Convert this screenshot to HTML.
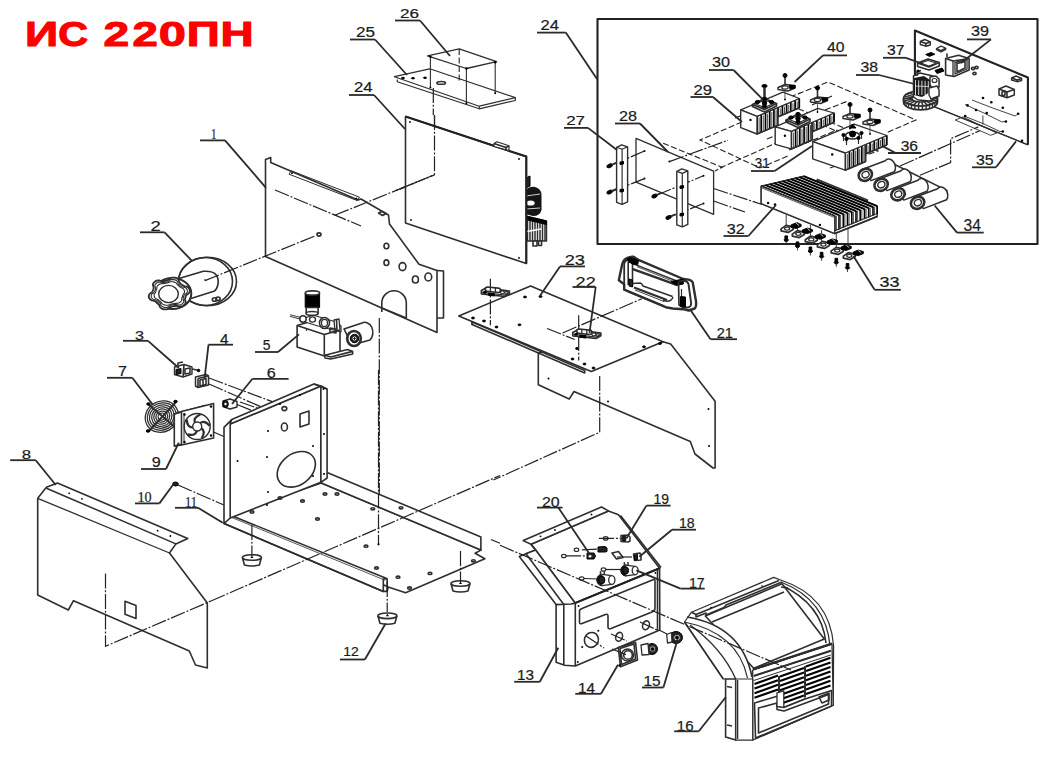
<!DOCTYPE html>
<html><head><meta charset="utf-8"><style>
html,body{margin:0;padding:0;background:#fff;width:1042px;height:774px;overflow:hidden}
svg{display:block}
.s{fill:none;stroke:#2e2e2e;stroke-width:1.6;stroke-linejoin:round}
.t{fill:none;stroke:#222;stroke-width:2.1;stroke-linejoin:round}
.u{fill:none;stroke:#2a2a2a;stroke-width:1.8}
.d{fill:none;stroke:#222;stroke-width:1.2;stroke-dasharray:15 1.8 2 1.8}
.dd{fill:none;stroke:#222;stroke-width:1.1;stroke-dasharray:6 2.5}
.f{fill:#000;stroke:#000;stroke-width:1}
.w{fill:#fff;stroke:#2e2e2e;stroke-width:1.6;stroke-linejoin:round}
.g{fill:#222;stroke:#000;stroke-width:1}
text{font-family:"Liberation Sans",sans-serif;fill:#1a1a1a;stroke:#1a1a1a;stroke-width:0.2}
</style></head><body>
<svg width="1042" height="774" viewBox="0 0 1042 774">
<text transform="translate(24.97,46.1) scale(1.347,1)" font-size="34.3" font-weight="bold" style="fill:#f00;stroke:#f00;stroke-width:1.04;stroke-linejoin:round">И</text>
<text transform="translate(58.25,46.1) scale(1.202,1)" font-size="34.3" font-weight="bold" style="fill:#f00;stroke:#f00;stroke-width:1.16;stroke-linejoin:round">С</text>
<text transform="translate(103.52,46.1) scale(1.345,1)" font-size="34.3" font-weight="bold" style="fill:#f00;stroke:#f00;stroke-width:1.04;stroke-linejoin:round">2</text>
<text transform="translate(132.43,46.1) scale(1.327,1)" font-size="34.3" font-weight="bold" style="fill:#f00;stroke:#f00;stroke-width:1.06;stroke-linejoin:round">2</text>
<text transform="translate(158.74,46.1) scale(1.427,1)" font-size="34.3" font-weight="bold" style="fill:#f00;stroke:#f00;stroke-width:0.98;stroke-linejoin:round">0</text>
<text transform="translate(186.79,46.1) scale(1.337,1)" font-size="34.3" font-weight="bold" style="fill:#f00;stroke:#f00;stroke-width:1.05;stroke-linejoin:round">П</text>
<text transform="translate(220.49,46.1) scale(1.337,1)" font-size="34.3" font-weight="bold" style="fill:#f00;stroke:#f00;stroke-width:1.05;stroke-linejoin:round">Н</text>
<rect x="597.5" y="19" width="440" height="225" class="t"/>
<polygon class="s" points="394.4,76.7 429.7,68.8 515.3,97.6 479.3,106.2" style="stroke-width:1.2"/>
<polyline class="s" points="397.3,79.6 397.3,81.7 479.3,108.8 479.3,106.2" style="stroke-width:1.2"/>
<polyline class="s" points="515.3,97.6 515.3,100.5 479.3,108.8" style="stroke-width:1.2"/>
<ellipse class="s" cx="441.2" cy="82.9" rx="4.3" ry="1.4" />
<ellipse class="f" cx="413.0" cy="78.2" rx="1.6" ry="0.7" />
<ellipse class="f" cx="425.0" cy="77.8" rx="1.6" ry="0.7" />
<ellipse class="f" cx="403.0" cy="78.0" rx="1.6" ry="0.7" />
<polygon class="s" points="427.5,55.8 459.2,48.9 496.6,61.6 466.4,68.5" style="stroke-width:1.3"/>
<polyline class="s" points="430.4,56.6 430.4,87.5" style="stroke-width:1.1"/>
<circle cx="430.4" cy="56.6" r="1.2" fill="#000"/>
<circle cx="430.4" cy="87.5" r="1.0" fill="#000"/>
<polyline class="s" points="466.4,68.5 466.4,103.3" style="stroke-width:1.1"/>
<circle cx="466.4" cy="68.5" r="1.2" fill="#000"/>
<circle cx="466.4" cy="103.3" r="1.0" fill="#000"/>
<polyline class="s" points="495.2,62.3 495.2,93.3" style="stroke-width:1.1"/>
<circle cx="495.2" cy="62.3" r="1.2" fill="#000"/>
<circle cx="495.2" cy="93.3" r="1.0" fill="#000"/>
<polyline class="dd" points="459.2,48.9 459.2,81.0" />
<polyline class="d" points="433.3,88.0 433.3,115.0" />
<polyline class="d" points="434.5,115.0 434.5,174.6 395.0,191.0" />
<g>
<polygon class="g" points="526.0,178.0 530.0,176.0 530.0,186.0 526.0,188.0" />
<path d="M525,192 Q528,186 535,187 Q542,189 541.5,196 L541.5,210 Q540,216 533,216 L525,214 Z" fill="#151515"/>
<ellipse class="w" cx="530.5" cy="203.0" rx="4.2" ry="2.6" style="stroke:none"/>
<polyline class="s" points="526.0,196.0 540.0,194.0" style="stroke:#fff;stroke-width:0.8"/>
<polyline class="s" points="526.0,209.0 540.0,208.0" style="stroke:#fff;stroke-width:0.8"/>
<polygon class="w" points="525.5,216.0 546.5,221.0 546.5,241.0 526.0,241.0" style="stroke-width:1.4"/>
<polyline class="s" points="527.5,216.5 527.5,241.0" style="stroke-width:1.5"/>
<polyline class="s" points="530.0,217.2 530.0,241.0" style="stroke-width:1.5"/>
<polyline class="s" points="532.5,217.9 532.5,241.0" style="stroke-width:1.5"/>
<polyline class="s" points="535.0,218.6 535.0,241.0" style="stroke-width:1.5"/>
<polyline class="s" points="537.5,219.3 537.5,241.0" style="stroke-width:1.5"/>
<polyline class="s" points="540.0,220.0 540.0,241.0" style="stroke-width:1.5"/>
<polyline class="s" points="542.5,220.7 542.5,241.0" style="stroke-width:1.5"/>
<polyline class="s" points="545.0,221.4 545.0,241.0" style="stroke-width:1.5"/>
<polygon class="f" points="525.5,216.0 546.5,221.0 546.5,224.5 525.5,219.5" />
<polyline class="s" points="527.0,231.5 541.0,229.0" style="stroke:#fff;stroke-width:1.6"/>
<polygon class="w" points="533.0,241.0 537.0,241.0 537.0,246.0 533.0,246.0" />
<polygon class="w" points="538.5,241.0 541.5,241.0 541.5,245.5 538.5,245.5" />
</g>
<polygon class="w" points="405.5,116.5 526.3,156.6 526.3,263.6 405.5,223.0" />
<polyline class="t" points="405.5,116.5 526.3,156.6 526.3,263.6" />
<circle cx="410.0" cy="122.0" r="0.9" fill="#000"/>
<circle cx="519.0" cy="159.0" r="0.9" fill="#000"/>
<circle cx="411.0" cy="220.0" r="0.9" fill="#000"/>
<circle cx="519.0" cy="258.0" r="0.9" fill="#000"/>
<polygon class="w" points="494.0,143.5 497.0,141.8 509.0,145.8 509.0,150.5 494.0,146.5" style="stroke-width:1.2"/>
<polyline class="s" points="494.0,143.5 506.0,147.5 509.0,145.8" />
<polyline class="s" points="506.0,147.5 506.0,150.0" />
<polyline class="d" points="434.5,115.0 434.5,174.6 395.0,191.0" />
<polygon class="w" points="265.5,159.5 270.7,157.5 270.7,162.5 358.0,200.0 361.0,199.0 388.5,215.0 389.5,224.0 419.0,264.3 437.0,270.5 437.0,332.5 265.5,256.5" />
<polyline class="s" points="437.0,270.5 443.5,271.0 443.5,318.0 437.0,318.0" />
<polygon class="s" points="289.0,174.2 291.2,170.8 359.5,197.2 357.3,200.6" style="stroke-width:1"/>
<circle cx="292.0" cy="173.2" r="0.9" fill="#000"/>
<circle cx="356.5" cy="198.5" r="0.9" fill="#000"/>
<polygon class="s" points="378.5,213.0 382.0,211.5 386.0,213.5 382.5,215.5" />
<ellipse class="s" cx="386.4" cy="246.0" rx="2.4" ry="2.8" />
<ellipse class="s" cx="386.4" cy="262.7" rx="2.4" ry="2.8" />
<ellipse class="s" cx="402.5" cy="266.6" rx="3.4" ry="4.0" />
<ellipse class="s" cx="415.4" cy="279.5" rx="3.0" ry="3.5" />
<ellipse class="s" cx="428.3" cy="277.0" rx="3.4" ry="4.0" />
<path class="s" d="M381.8,312 L381.8,303 A12,12 0 0 1 406.3,303 L406.3,318" />
<polyline class="s" points="381.8,308.0 406.3,318.0" />
<polyline class="d" points="275.0,190.0 361.0,226.0" />
<polyline class="d" points="334.7,215.3 434.5,174.9" />
<ellipse class="s" cx="319.0" cy="234.5" rx="2.0" ry="1.6" />
<polyline class="d" points="379.3,318.0 379.3,545.0" />
<ellipse class="w" cx="207.5" cy="281.5" rx="29.0" ry="24.2" />
<ellipse class="s" cx="205.5" cy="281.5" rx="27.0" ry="24.0" />
<path class="s" d="M179.8,278.3 L203.3,271.3 Q219,270 218.2,283 Q217,290 213.9,291.3 L190.9,298.5" />
<circle cx="205.0" cy="280.0" r="0.8" fill="#000"/>
<ellipse class="s" cx="214.5" cy="299.5" rx="2.2" ry="1.8" />
<ellipse class="s" cx="218.0" cy="298.8" rx="2.2" ry="1.8" />
<ellipse class="w" cx="172.3" cy="293.5" rx="19.0" ry="15.5" style="stroke-width:2"/>
<polygon class="w" points="188.5,293.5 187.0,294.4 186.4,295.3 185.9,296.1 185.5,296.9 185.3,297.7 185.1,298.6 185.0,299.5 185.2,300.7 185.8,302.1 185.5,303.2 185.0,304.2 184.1,305.1 183.1,305.8 181.9,306.3 180.5,306.5 178.9,306.5 177.1,305.9 175.9,305.9 174.7,306.0 173.6,306.2 172.6,306.4 171.5,306.7 170.4,307.1 169.3,307.8 168.0,308.9 166.6,309.3 165.2,309.4 163.9,309.3 162.6,309.0 161.4,308.4 160.4,307.6 159.7,306.5 159.5,305.0 158.8,304.1 158.1,303.4 157.4,302.8 156.6,302.2 155.8,301.6 154.8,301.1 153.4,300.7 151.5,300.3 150.4,299.6 149.6,298.7 149.0,297.7 148.8,296.7 148.9,295.6 149.2,294.5 150.1,293.5 151.6,292.6 152.2,291.7 152.7,290.9 153.1,290.1 153.3,289.3 153.5,288.4 153.6,287.5 153.4,286.3 152.8,284.9 153.1,283.8 153.6,282.8 154.5,281.9 155.5,281.2 156.7,280.7 158.1,280.5 159.7,280.5 161.5,281.1 162.7,281.1 163.9,281.0 165.0,280.8 166.0,280.6 167.1,280.3 168.2,279.9 169.3,279.2 170.6,278.1 172.0,277.7 173.4,277.6 174.7,277.7 176.0,278.0 177.2,278.6 178.2,279.4 178.9,280.5 179.1,282.0 179.8,282.9 180.5,283.6 181.2,284.2 182.0,284.8 182.8,285.4 183.8,285.9 185.2,286.3 187.1,286.7 188.2,287.4 189.0,288.3 189.6,289.3 189.8,290.3 189.7,291.4 189.4,292.5" style="stroke-width:1.8"/>
<polygon class="s" points="186.2,293.5 184.9,294.3 184.3,295.0 183.9,295.8 183.6,296.5 183.4,297.2 183.2,298.0 183.1,298.8 183.3,299.8 183.8,301.1 183.6,302.1 183.1,302.9 182.4,303.7 181.5,304.3 180.4,304.7 179.1,305.0 177.8,304.9 176.2,304.4 175.1,304.4 174.1,304.5 173.1,304.7 172.2,304.9 171.3,305.1 170.3,305.5 169.3,306.1 168.2,307.1 166.9,307.4 165.7,307.5 164.5,307.4 163.4,307.1 162.3,306.6 161.5,305.9 160.8,304.9 160.6,303.6 160.1,302.9 159.5,302.2 158.8,301.7 158.1,301.1 157.4,300.6 156.5,300.2 155.3,299.8 153.6,299.5 152.6,298.9 151.9,298.1 151.4,297.2 151.2,296.3 151.3,295.3 151.6,294.4 152.4,293.5 153.7,292.7 154.3,292.0 154.7,291.2 155.0,290.5 155.2,289.8 155.4,289.0 155.5,288.2 155.3,287.2 154.8,285.9 155.0,284.9 155.5,284.1 156.2,283.3 157.1,282.7 158.2,282.3 159.5,282.0 160.8,282.1 162.4,282.6 163.5,282.6 164.5,282.5 165.5,282.3 166.4,282.1 167.3,281.9 168.3,281.5 169.3,280.9 170.4,279.9 171.7,279.6 172.9,279.5 174.1,279.6 175.2,279.9 176.3,280.4 177.1,281.1 177.8,282.1 178.0,283.4 178.5,284.1 179.1,284.8 179.8,285.3 180.5,285.9 181.2,286.4 182.1,286.8 183.3,287.2 185.0,287.5 186.0,288.1 186.7,288.9 187.2,289.8 187.4,290.7 187.3,291.7 187.0,292.6" style="stroke-width:1.1"/>
<polygon class="s" points="184.0,293.5 183.3,294.2 183.0,294.9 182.7,295.6 182.5,296.3 182.2,296.9 182.0,297.6 181.8,298.3 181.7,299.1 181.8,300.0 181.4,300.7 180.9,301.4 180.3,302.0 179.5,302.6 178.6,303.0 177.7,303.3 176.7,303.4 175.5,303.3 174.6,303.5 173.7,303.6 172.8,303.8 172.0,304.0 171.1,304.1 170.2,304.4 169.3,304.7 168.3,305.2 167.3,305.3 166.3,305.3 165.3,305.2 164.3,304.9 163.4,304.6 162.6,304.1 161.9,303.4 161.5,302.6 160.9,302.1 160.3,301.5 159.7,301.0 159.0,300.5 158.4,300.0 157.7,299.5 156.9,299.1 155.9,298.7 155.2,298.1 154.7,297.4 154.3,296.6 154.1,295.9 154.1,295.1 154.2,294.3 154.6,293.5 155.3,292.8 155.6,292.1 155.9,291.4 156.1,290.7 156.4,290.1 156.6,289.4 156.8,288.7 156.9,287.9 156.8,287.0 157.2,286.3 157.7,285.6 158.3,285.0 159.1,284.4 160.0,284.0 160.9,283.7 161.9,283.6 163.1,283.7 164.0,283.5 164.9,283.4 165.8,283.2 166.6,283.0 167.5,282.9 168.4,282.6 169.3,282.3 170.3,281.8 171.3,281.7 172.3,281.7 173.3,281.8 174.3,282.1 175.2,282.4 176.0,282.9 176.7,283.6 177.1,284.4 177.7,284.9 178.3,285.5 178.9,286.0 179.6,286.5 180.2,287.0 180.9,287.5 181.7,287.9 182.7,288.3 183.4,288.9 183.9,289.6 184.3,290.4 184.5,291.1 184.5,291.9 184.4,292.7" style="stroke-width:1.1"/>
<ellipse class="w" cx="168.5" cy="294.0" rx="9.8" ry="8.6" style="stroke-width:1.4"/>
<polyline class="d" points="205.0,280.6 316.0,235.5" />
<path class="w" d="M344,329 L362,323 A8,10 0 0 1 370,340 L352,345 Z" />
<ellipse class="w" cx="354.0" cy="338.5" rx="6.8" ry="7.5" style="stroke-width:2.6"/>
<circle class="g" cx="354.5" cy="338.5" r="4.2" />
<circle class="w" cx="354.5" cy="338.5" r="2.0" style="stroke:none"/>
<circle class="f" cx="354.5" cy="338.5" r="0.8" />
<polygon class="w" points="297.1,325.6 312.0,321.0 340.0,330.0 340.0,352.0 324.3,356.0 297.1,347.0" />
<polyline class="s" points="297.1,325.6 324.3,334.6 340.0,330.0" />
<polyline class="s" points="324.3,334.6 324.3,356.0" />
<polygon class="w" points="324.9,355.3 347.5,349.5 352.7,351.4 352.7,354.0 330.7,359.1 324.9,357.9" style="stroke-width:1.5"/>
<polyline class="s" points="324.9,355.3 330.7,357.0 352.7,351.4" />
<polygon class="w" points="305.0,318.0 313.0,315.0 336.0,322.0 341.0,326.0 341.0,332.0 318.0,326.0 305.0,322.0" style="stroke-width:1.2"/>
<ellipse class="w" cx="312.5" cy="319.5" rx="3.0" ry="2.6" style="stroke-width:1.4"/>
<ellipse class="w" cx="324.5" cy="323.0" rx="5.0" ry="5.5" style="stroke-width:1.6"/>
<ellipse class="s" cx="324.5" cy="323.0" rx="3.0" ry="3.6" style="stroke-width:1.2"/>
<polygon class="w" points="334.0,320.0 339.0,319.0 340.0,330.0 335.0,331.0" style="stroke-width:1.3"/>
<polyline class="s" points="336.5,319.5 337.0,331.0" />
<polygon class="s" points="330.0,328.0 336.0,329.0 336.0,333.0 330.0,332.0" />
<polygon class="f" points="305.2,293.0 319.6,293.0 319.6,307.5 305.2,307.5" />
<ellipse class="w" cx="312.4" cy="293.0" rx="7.2" ry="2.1" />
<polygon class="w" points="306.2,307.5 318.1,307.5 318.1,313.4 306.2,313.4" />
<ellipse class="w" cx="312.1" cy="313.4" rx="5.9" ry="1.9" />
<polyline class="s" points="290.0,315.5 303.0,319.0" style="stroke-width:2.5"/>
<polyline class="s" points="290.0,315.5 303.0,319.0" style="stroke:#fff;stroke-width:0.8"/>
<circle class="w" cx="303.0" cy="319.0" r="3.2" style="stroke-width:1.5"/>
<circle cx="306.5" cy="330.0" r="0.8" fill="#000"/>
<polygon class="w" points="174.5,367.0 184.0,364.5 192.0,367.0 192.0,374.0 183.0,377.0 174.5,374.5" style="stroke-width:1.4"/>
<polyline class="s" points="184.0,364.5 183.0,377.0" />
<polygon class="g" points="176.0,369.5 181.0,368.5 181.0,373.5 176.0,374.5" />
<polygon class="s" points="185.0,369.0 190.0,368.0 190.0,373.0 185.0,374.0" />
<polyline class="s" points="178.0,365.5 178.0,363.0 183.0,362.0" />
<polyline class="s" points="192.0,369.0 197.0,370.0" style="stroke-width:1.4"/>
<circle class="f" cx="198.5" cy="370.5" r="1.3" />
<polygon class="w" points="195.5,377.0 206.0,374.5 208.5,376.0 208.5,385.0 198.0,387.5 195.5,386.0" style="stroke-width:1.5"/>
<polyline class="s" points="198.0,378.5 198.0,387.5" />
<polyline class="s" points="198.0,378.5 208.5,376.0" />
<polygon class="s" points="200.0,380.0 206.0,378.5 206.0,384.5 200.0,386.0" />
<polyline class="s" points="203.0,379.5 203.0,385.0" />
<polyline class="d" points="209.0,378.0 300.0,412.0" />
<polyline class="d" points="209.0,384.0 300.0,424.0" />
<polyline class="d" points="240.0,402.0 300.0,423.0" />
<polygon class="w" points="223.0,401.0 230.0,399.0 237.0,401.5 237.0,407.0 230.0,409.0 223.0,406.5" style="stroke-width:1.4"/>
<ellipse class="g" cx="225.5" cy="404.0" rx="2.8" ry="3.5" />
<circle class="w" cx="225.5" cy="404.0" r="1.2" style="stroke:none"/>
<polyline class="d" points="237.0,404.5 290.0,426.0" />
<g transform="rotate(-30 161.8 416.6)">
<ellipse class="s" cx="161.8" cy="416.6" rx="17.0" ry="15.3" style="stroke-width:1.25"/>
<ellipse class="s" cx="161.8" cy="416.6" rx="14.8" ry="13.3" style="stroke-width:1.25"/>
<ellipse class="s" cx="161.8" cy="416.6" rx="12.6" ry="11.3" style="stroke-width:1.25"/>
<ellipse class="s" cx="161.8" cy="416.6" rx="10.4" ry="9.4" style="stroke-width:1.25"/>
<ellipse class="s" cx="161.8" cy="416.6" rx="8.2" ry="7.4" style="stroke-width:1.25"/>
<ellipse class="s" cx="161.8" cy="416.6" rx="6.0" ry="5.4" style="stroke-width:1.25"/>
<ellipse class="s" cx="161.8" cy="416.6" rx="3.8" ry="3.4" style="stroke-width:1.25"/>
</g>
<polyline class="s" points="148.0,404.0 176.0,428.0" style="stroke-width:2"/>
<polyline class="s" points="176.0,402.0 149.0,431.0" style="stroke-width:2"/>
<ellipse class="f" cx="148.5" cy="404.0" rx="1.8" ry="1.2" />
<ellipse class="f" cx="175.5" cy="401.5" rx="1.8" ry="1.2" />
<ellipse class="f" cx="148.0" cy="431.0" rx="1.8" ry="1.2" />
<ellipse class="f" cx="176.0" cy="428.0" rx="1.8" ry="1.2" />
<polygon class="w" points="174.3,414.0 205.0,405.5 205.0,439.0 174.3,446.0" style="stroke-width:1.6"/>
<polygon class="w" points="181.5,411.5 213.6,403.5 213.6,438.0 181.5,445.0" style="stroke-width:1.6"/>
<polyline class="s" points="174.3,414.0 181.5,411.5" />
<polyline class="s" points="174.3,446.0 181.5,445.0" />
<polyline class="s" points="184.0,413.0 184.0,443.5" style="stroke-width:1"/>
<circle class="s" cx="197.2" cy="426.5" r="13.0" style="stroke-width:1.4"/>
<circle class="s" cx="197.2" cy="426.5" r="4.5" style="stroke-width:1.4"/>
<path class="s" d="M201.3,428.3 Q206.0,431.3 201.7,438.2" style="stroke-width:2.2"/>
<path class="s" d="M196.8,431.0 Q195.4,436.3 187.5,434.4" style="stroke-width:2.2"/>
<path class="s" d="M192.8,427.5 Q187.3,427.8 186.7,419.7" style="stroke-width:2.2"/>
<path class="s" d="M194.9,422.6 Q192.9,417.5 200.4,414.4" style="stroke-width:2.2"/>
<path class="s" d="M200.1,423.1 Q204.5,419.6 209.7,425.8" style="stroke-width:2.2"/>
<circle cx="184.5" cy="414.5" r="1.2" fill="#000"/>
<circle cx="211.0" cy="406.5" r="1.2" fill="#000"/>
<circle cx="184.5" cy="442.0" r="1.2" fill="#000"/>
<circle cx="211.0" cy="435.5" r="1.2" fill="#000"/>
<polyline class="d" points="213.5,432.0 320.0,478.0" />
<ellipse class="g" cx="175.5" cy="484.0" rx="2.8" ry="2.0" />
<polyline class="d" points="178.0,485.0 224.0,505.0" />
<polygon class="w" points="230.2,514.2 321.3,482.9 480.9,550.1 475.1,553.2 484.9,558.7 405.6,592.8 388.2,587.0 231.7,515.7" />
<polygon class="w" points="321.3,482.9 327.1,472.6 480.9,536.9 480.9,550.1" />
<polygon class="w" points="224.0,523.5 231.7,515.7 386.7,578.6 383.3,579.0 383.3,591.4 224.0,523.5" />
<polyline class="s" points="231.7,517.5 385.3,580.3" style="stroke-width:0.8"/>
<polyline class="s" points="224.0,523.5 383.3,591.4 387.2,591.4 387.2,579.5 386.7,578.6" />
<polyline class="s" points="387.2,591.4 388.2,587.0" />
<polygon class="w" points="230.2,424.0 320.9,386.0 320.9,482.3 230.2,518.0" />
<polygon class="w" points="224.0,427.4 231.7,419.6 313.9,384.0 320.9,386.0 230.2,424.0 230.2,518.0 224.0,523.5" />
<polyline class="s" points="231.7,419.6 230.2,424.0" />
<polygon class="w" points="320.9,386.0 327.1,389.0 327.1,478.0 320.9,482.3" />
<polyline class="s" points="313.9,384.0 327.1,389.0" />
<ellipse class="s" cx="296.3" cy="469.3" rx="21.0" ry="15.5" transform="rotate(-38 296.3 469.3)"/>
<polygon class="s" points="300.0,414.0 309.0,411.0 309.0,424.0 300.0,427.0" />
<ellipse class="s" cx="284.4" cy="427.0" rx="3.0" ry="4.0" />
<ellipse class="s" cx="284.4" cy="408.6" rx="2.4" ry="2.0" />
<circle cx="268.0" cy="431.0" r="1.0" fill="#000"/>
<circle cx="313.0" cy="446.0" r="1.0" fill="#000"/>
<circle cx="313.0" cy="476.0" r="1.0" fill="#000"/>
<circle cx="267.0" cy="457.0" r="1.0" fill="#000"/>
<circle cx="268.0" cy="492.0" r="1.0" fill="#000"/>
<circle cx="267.0" cy="505.0" r="1.0" fill="#000"/>
<circle cx="323.5" cy="389.0" r="1.0" fill="#000"/>
<circle cx="324.0" cy="434.0" r="1.0" fill="#000"/>
<circle cx="324.0" cy="474.0" r="1.0" fill="#000"/>
<circle cx="280.0" cy="404.0" r="1.0" fill="#000"/>
<circle cx="237.5" cy="461.0" r="1.0" fill="#000"/>
<circle cx="300.0" cy="395.0" r="1.0" fill="#000"/>
<ellipse class="s" cx="337.0" cy="494.0" rx="1.9" ry="1.1" />
<ellipse class="s" cx="325.0" cy="494.0" rx="1.9" ry="1.1" />
<ellipse class="s" cx="372.8" cy="508.8" rx="1.9" ry="1.1" />
<ellipse class="s" cx="401.0" cy="507.8" rx="1.9" ry="1.1" />
<ellipse class="s" cx="366.0" cy="546.2" rx="1.9" ry="1.1" />
<ellipse class="s" cx="376.5" cy="568.0" rx="1.9" ry="1.1" />
<ellipse class="s" cx="398.0" cy="577.2" rx="1.9" ry="1.1" />
<ellipse class="s" cx="430.0" cy="573.4" rx="1.9" ry="1.1" />
<ellipse class="s" cx="473.4" cy="560.8" rx="1.9" ry="1.1" />
<ellipse class="s" cx="409.5" cy="588.0" rx="1.9" ry="1.1" />
<ellipse class="s" cx="302.5" cy="501.0" rx="1.9" ry="1.1" />
<ellipse class="s" cx="317.5" cy="519.0" rx="1.9" ry="1.1" />
<ellipse class="s" cx="252.0" cy="512.0" rx="1.9" ry="1.1" />
<ellipse class="s" cx="280.0" cy="498.0" rx="1.9" ry="1.1" />
<polyline class="d" points="232.0,425.0 300.0,426.0 340.0,440.0" style="display:none"/>
<polyline class="d" points="211.0,601.0 500.0,475.5" />
<polyline class="d" points="378.5,370.0 378.5,544.3" />
<circle cx="378.5" cy="544.3" r="1.1" fill="#000"/>
<polyline class="d" points="387.2,582.0 387.2,612.0" />
<polyline class="d" points="490.9,539.5 500.0,543.3" />
<path class="w" d="M242.4,557.5 L244.4,565.0 Q251.9,567.0 259.4,565.0 L261.4,557.5" />
<ellipse class="w" cx="251.9" cy="557.5" rx="9.5" ry="2.8" />
<path d="M250.4,558.0 L251.9,555.5 L253.4,558.0 Z" fill="#000"/>
<polyline class="d" points="251.9,525.0 251.9,556.0" />
<path class="w" d="M451.0,583.5 L453.0,591.0 Q460.5,593.0 468.0,591.0 L470.0,583.5" />
<ellipse class="w" cx="460.5" cy="583.5" rx="9.5" ry="2.8" />
<path d="M459.0,584.0 L460.5,581.5 L462.0,584.0 Z" fill="#000"/>
<polyline class="d" points="460.5,551.0 460.5,582.0" />
<path class="w" d="M377.9,615.8 L379.9,623.3 Q387.4,625.3 394.9,623.3 L396.9,615.8" />
<ellipse class="w" cx="387.4" cy="615.8" rx="9.5" ry="2.8" />
<path d="M385.9,616.3 L387.4,613.8 L388.9,616.3 Z" fill="#000"/>
<polygon class="w" points="37.7,498.3 46.4,487.3 57.4,483.1 187.7,538.4 175.9,543.9 169.5,553.0 207.3,603.0 207.3,668.0 195.5,665.0 189.3,651.0 73.5,600.7 68.3,610.0 37.7,595.0" />
<polyline class="s" points="46.4,488.2 175.9,543.9" style="stroke-width:1.5"/>
<polyline class="s" points="37.7,498.3 169.5,553.0" style="stroke-width:1.3"/>
<circle cx="69.2" cy="493.3" r="0.9" fill="#000"/>
<circle cx="82.0" cy="498.8" r="0.9" fill="#000"/>
<circle cx="157.6" cy="530.7" r="0.9" fill="#000"/>
<circle cx="170.4" cy="536.0" r="0.9" fill="#000"/>
<polygon class="s" points="125.0,601.3 136.0,605.5 136.0,618.4 125.0,614.2" />
<polyline class="d" points="105.5,573.4 105.5,646.3 211.0,601.0" />
<polygon class="w" points="538.3,352.8 663.0,341.7 670.7,344.0 715.1,401.2 715.1,467.9 713.0,468.0 695.0,454.0 690.3,441.5 574.0,391.5 569.2,399.1 538.3,384.8" />
<circle cx="548.5" cy="378.5" r="1" fill="#000"/>
<circle cx="579.0" cy="364.0" r="1" fill="#000"/>
<circle cx="608.0" cy="401.5" r="1" fill="#000"/>
<circle cx="708.5" cy="409.0" r="1" fill="#000"/>
<circle cx="709.0" cy="446.0" r="1" fill="#000"/>
<polygon class="w" points="458.8,315.9 530.6,285.9 663.0,341.7 591.3,371.5" />
<polygon class="s" points="472.0,321.9 584.7,370.4 584.7,373.0 472.0,324.5" />
<polyline class="s" points="472.0,324.5 472.0,322.0" />
<ellipse class="f" cx="473.0" cy="318.0" rx="1.5" ry="0.9" />
<ellipse class="f" cx="484.0" cy="321.0" rx="1.5" ry="0.9" />
<ellipse class="f" cx="496.5" cy="327.0" rx="1.5" ry="0.9" />
<ellipse class="f" cx="519.5" cy="324.8" rx="1.5" ry="0.9" />
<ellipse class="f" cx="525.0" cy="297.0" rx="1.5" ry="0.9" />
<ellipse class="f" cx="540.5" cy="296.5" rx="1.5" ry="0.9" />
<ellipse class="f" cx="577.0" cy="348.5" rx="1.5" ry="0.9" />
<ellipse class="f" cx="572.5" cy="359.0" rx="1.5" ry="0.9" />
<ellipse class="f" cx="584.5" cy="364.0" rx="1.5" ry="0.9" />
<ellipse class="f" cx="593.5" cy="368.0" rx="1.5" ry="0.9" />
<ellipse class="f" cx="644.0" cy="346.8" rx="1.5" ry="0.9" />
<ellipse class="f" cx="660.0" cy="343.5" rx="1.5" ry="0.9" />
<polyline class="d" points="490.4,278.8 490.4,325.2" />
<polyline class="d" points="578.7,315.3 578.7,360.5" />
<polyline class="d" points="547.0,328.5 574.7,339.5" />
<polyline class="d" points="562.6,333.0 642.0,298.7" />
<polyline class="d" points="599.7,376.0 599.7,432.2 493.4,480.0" />
<polygon class="w" points="481.4,290.5 486.4,287.8 509.4,291.1 509.4,293.8 504.7,296.5 481.4,293.8" style="stroke-width:1.7"/>
<polyline class="s" points="481.9,292.3 504.7,295.1 508.9,292.7" style="stroke-width:1.1"/>
<path class="w" d="M487.4,287.0 L498.4,288.1 A2,2.2 0 0 1 498.4,292.5 L487.4,291.4 A2,2.2 0 0 1 487.4,287.0 Z" style="stroke-width:1.6"/>
<polyline class="s" points="490.4,287.5 490.4,291.7" style="stroke-width:1.3"/>
<polyline class="s" points="495.4,287.9 495.4,292.2" style="stroke-width:1.3"/>
<ellipse class="s" cx="502.4" cy="292.3" rx="2.0" ry="1.5" style="stroke-width:1.3"/>
<ellipse class="s" cx="506.4" cy="292.9" rx="1.6" ry="1.3" style="stroke-width:1.1"/>
<ellipse class="f" cx="484.9" cy="292.3" rx="1.6" ry="1.0" />
<polygon class="f" points="488.4,293.0 494.4,293.7 494.4,296.0 488.4,295.3" />
<polygon class="w" points="572.8,332.5 577.8,329.8 600.8,333.1 600.8,335.8 596.1,338.5 572.8,335.8" style="stroke-width:1.7"/>
<polyline class="s" points="573.3,334.3 596.1,337.1 600.3,334.7" style="stroke-width:1.1"/>
<path class="w" d="M578.8,329.0 L589.8,330.1 A2,2.2 0 0 1 589.8,334.5 L578.8,333.4 A2,2.2 0 0 1 578.8,329.0 Z" style="stroke-width:1.6"/>
<polyline class="s" points="581.8,329.5 581.8,333.7" style="stroke-width:1.3"/>
<polyline class="s" points="586.8,329.9 586.8,334.2" style="stroke-width:1.3"/>
<ellipse class="s" cx="593.8" cy="334.3" rx="2.0" ry="1.5" style="stroke-width:1.3"/>
<ellipse class="s" cx="597.8" cy="334.9" rx="1.6" ry="1.3" style="stroke-width:1.1"/>
<ellipse class="f" cx="576.3" cy="334.3" rx="1.6" ry="1.0" />
<polygon class="f" points="579.8,335.0 585.8,335.7 585.8,338.0 579.8,337.3" />
<path class="w" d="M618.8,280.3 L622.2,264.2 Q623.5,259.5 626.9,258.1 Q630.5,256.3 633.6,256.8 L639,260.2 L683.3,279 L688.7,279.6 Q691.8,280.5 692.7,282.3 L696.1,301.8 Q696.5,306.5 694.7,308.5 L688.7,310.5 L683.3,309.2 L672.6,308.5 L665.8,307.2 L624.2,289.7 L624.2,284.3 Z" style="stroke-width:2.4"/>
<path class="s" d="M624.2,284.3 L624.2,264 Q625,260 628.5,259.5 L633,259.8" style="stroke-width:1.8"/>
<polyline class="s" points="628.2,262.0 628.2,285.0" style="stroke-width:1.6"/>
<polyline class="s" points="632.5,264.0 632.5,286.5" style="stroke-width:1.6"/>
<path class="f" d="M627.5,258.3 Q632,256.8 638.5,260.5 L637.5,265.5 L632.5,264 L628,261.5 Z" />
<polygon class="g" points="629.0,279.0 632.5,280.0 632.5,287.0 629.0,286.0" />
<polyline class="s" points="632.2,268.9 675.2,284.3" style="stroke-width:2.4"/>
<polyline class="s" points="636.0,264.8 678.0,281.5" style="stroke-width:1.4"/>
<polyline class="s" points="637.0,266.7 676.0,282.6" style="stroke-width:0.8"/>
<polygon class="f" points="671.0,281.5 683.3,279.0 683.3,284.0 676.0,285.5" />
<path class="s" d="M632.5,283.5 L640.3,283 Q642,283.5 643,286 L672.6,296.4" style="stroke-width:1.6"/>
<polyline class="s" points="634.0,287.5 667.0,300.0" style="stroke-width:2.2"/>
<polyline class="s" points="635.0,290.0 664.0,301.5" style="stroke-width:0.9"/>
<polyline class="s" points="626.9,291.0 663.2,305.7" style="stroke-width:1.5"/>
<path class="s" d="M663,300.5 Q671,303 673,297" style="stroke-width:1.4"/>
<path class="s" d="M678.5,281.5 L683.5,280.8 Q687.5,281 688.5,284 L691.2,303.5 Q691,307 688,307.5 L683.3,307.5 L679,305" style="stroke-width:1.9"/>
<polyline class="s" points="678.5,281.5 679.0,305.5" style="stroke-width:1.7"/>
<polygon class="f" points="680.5,296.5 685.5,297.0 685.5,307.0 680.5,306.5" />
<polyline class="s" points="681.5,289.0 681.5,296.0" style="stroke-width:1.2"/>
<polygon class="w" points="531.0,544.3 608.4,510.9 618.5,514.7 659.6,568.2 575.1,603.1 535.6,550.1" />
<polygon class="w" points="523.2,540.6 601.5,507.0 608.4,510.9 531.0,544.3" />
<polyline class="s" points="531.0,544.3 535.6,550.1 526.0,553.8" />
<circle cx="540.5" cy="536.3" r="0.9" fill="#000"/>
<circle cx="555.0" cy="530.0" r="0.9" fill="#000"/>
<circle cx="591.5" cy="514.5" r="0.9" fill="#000"/>
<polyline class="s" points="620.5,515.5 661.0,567.5" />
<polygon class="w" points="519.3,556.6 526.0,553.8 535.6,550.1 575.1,603.1 571.0,606.0 556.1,604.6" />
<polyline class="s" points="526.0,553.8 563.8,604.6" />
<polygon class="w" points="556.1,604.6 571.0,604.0 575.3,603.1 659.6,568.2 659.8,630.0 575.3,666.0 564.6,665.2 556.1,662.2" />
<polyline class="s" points="563.8,604.6 563.8,665.0" />
<polyline class="s" points="575.3,603.1 575.3,666.0" />
<polyline class="s" points="657.5,569.0 657.5,630.5" />
<polyline class="t" points="575.1,603.1 659.6,568.2" />
<path class="s" d="M579.5,612 Q579,609.5 582,608.5 L653,579.8 Q655,579 655,581 L655,608 Q655,611 652,612 L611,628.5 Q608,629.5 608,627 L608,616 Q608,613.5 605.5,614.5 L582,623.5 Q579.5,624.5 579.5,622 Z" />
<circle cx="578.5" cy="606.0" r="0.9" fill="#000"/>
<circle cx="577.8" cy="662.0" r="0.9" fill="#000"/>
<circle cx="655.5" cy="573.0" r="0.9" fill="#000"/>
<ellipse class="s" cx="591.4" cy="639.9" rx="7.0" ry="7.5" transform="rotate(20 591.4 639.9)"/>
<polyline class="d" points="586.0,636.0 604.0,648.0" />
<circle cx="598.3" cy="630.7" r="1" fill="#000"/>
<circle cx="582.2" cy="647.1" r="1" fill="#000"/>
<ellipse class="s" cx="619.1" cy="636.8" rx="3.3" ry="4.5" transform="rotate(20 619.1 636.8)"/>
<polyline class="d" points="611.0,634.0 627.0,641.0" />
<ellipse class="s" cx="646.0" cy="625.3" rx="3.3" ry="4.5" transform="rotate(20 646 625.3)"/>
<polyline class="d" points="640.0,622.0 657.0,630.0" />
<polygon class="w" points="618.3,647.5 635.5,642.2 637.5,660.0 620.5,666.8" style="stroke-width:1.6"/>
<polygon class="s" points="620.0,648.5 634.0,644.0 635.5,659.0 621.5,664.5" />
<circle class="w" cx="627.5" cy="655.0" r="6.0" style="stroke-width:1.5"/>
<circle class="s" cx="628.0" cy="655.0" r="4.3" />
<polyline class="d" points="612.0,649.0 627.0,655.0" />
<circle cx="619.5" cy="665.5" r="1.2" fill="#000"/>
<ellipse class="g" cx="652.0" cy="649.0" rx="5.5" ry="5.5" />
<circle class="w" cx="652.5" cy="649.0" r="3.0" style="stroke-width:1.2"/>
<circle class="f" cx="652.5" cy="649.0" r="1.5" />
<polygon class="w" points="641.0,645.0 648.0,643.5 649.0,654.5 642.0,655.0" style="stroke-width:1.3"/>
<ellipse class="g" cx="676.0" cy="637.5" rx="6.5" ry="6.0" />
<circle class="w" cx="677.0" cy="637.5" r="3.2" style="stroke-width:1.2"/>
<circle class="f" cx="677.0" cy="637.5" r="1.5" />
<polygon class="w" points="666.7,634.5 671.5,632.5 672.0,642.0 667.5,643.0" style="stroke-width:1.3"/>
<polyline class="d" points="659.0,630.0 667.0,634.0" />
<ellipse class="s" cx="605.7" cy="538.4" rx="2.3" ry="1.7" style="stroke-width:1.2"/>
<polyline class="d" points="599.0,538.4 620.0,538.4" />
<polygon class="w" points="621.0,535.5 628.0,535.0 630.0,537.0 630.0,541.0 628.0,542.0 621.0,541.5" style="stroke-width:1.5"/>
<ellipse class="g" cx="624.0" cy="538.5" rx="2.0" ry="2.7" />
<ellipse class="s" cx="576.5" cy="549.8" rx="2.3" ry="1.7" style="stroke-width:1.2"/>
<polyline class="d" points="582.0,549.8 598.0,549.0" />
<polygon class="g" points="598.0,547.0 605.0,546.5 607.0,548.0 607.0,551.5 605.0,552.0 598.0,552.0" />
<ellipse class="s" cx="563.8" cy="556.0" rx="2.3" ry="1.7" style="stroke-width:1.2"/>
<polyline class="d" points="566.0,555.8 585.0,555.8" />
<polygon class="g" points="587.0,553.0 594.0,553.0 595.5,556.0 594.0,559.0 587.0,559.0" />
<circle class="w" cx="590.0" cy="556.0" r="1.5" style="stroke:none"/>
<polygon class="s" points="612.0,553.0 618.5,551.5 623.0,557.5 616.5,559.0" />
<polyline class="d" points="617.0,557.0 632.0,557.0" />
<polygon class="w" points="633.5,554.0 640.0,553.0 641.0,556.0 641.0,560.0 634.5,560.5" style="stroke-width:1.6"/>
<polygon class="g" points="634.5,555.0 637.5,554.5 637.5,559.5 634.5,560.0" />
<ellipse class="s" cx="603.5" cy="569.5" rx="2.3" ry="1.7" style="stroke-width:1.2"/>
<polyline class="d" points="606.0,569.5 622.0,569.5" />
<ellipse class="g" cx="625.6" cy="570.5" rx="4.8" ry="5.4" />
<polygon class="w" points="625.6,565.1 635.2,566.3 635.2,574.7 625.6,575.9" style="stroke-width:1.3"/>
<ellipse class="w" cx="635.2" cy="570.5" rx="3.0" ry="4.2" style="stroke-width:1.3"/>
<ellipse class="g" cx="625.6" cy="570.5" rx="3.0" ry="3.6" />
<polyline class="s" points="624.4,562.1 624.4,565.7" style="stroke-width:1.5"/>
<polyline class="s" points="628.0,562.1 628.0,565.7" style="stroke-width:1.5"/>
<ellipse class="s" cx="581.7" cy="578.5" rx="2.3" ry="1.7" style="stroke-width:1.2"/>
<polyline class="d" points="584.0,578.5 598.0,579.0" />
<ellipse class="g" cx="601.8" cy="580.0" rx="5.0" ry="5.6" />
<polygon class="w" points="601.8,574.4 611.8,575.6 611.8,584.4 601.8,585.6" style="stroke-width:1.3"/>
<ellipse class="w" cx="611.8" cy="580.0" rx="3.1" ry="4.4" style="stroke-width:1.3"/>
<ellipse class="g" cx="601.8" cy="580.0" rx="3.1" ry="3.8" />
<polyline class="s" points="600.5,571.2 600.5,575.0" style="stroke-width:1.5"/>
<polyline class="s" points="604.2,571.2 604.2,575.0" style="stroke-width:1.5"/>
<path class="w" d="M684.5,622 L691.5,612.2 L773.7,577.4 L780.6,580 Q830,596 833.6,646 L833.3,705.2 L752.7,740 L736.4,740 L725.6,737 L725.6,679 L723.3,679 Z" style="stroke-width:1.2"/>
<polyline class="s" points="691.5,612.2 696.0,614.5 779.0,580.5" />
<polyline class="s" points="696.0,614.5 696.0,617.0 706.0,613.0 706.0,615.0 724.0,607.5 726.0,605.0 782.0,582.0" />
<circle cx="711.0" cy="607.5" r="0.8" fill="#000"/>
<circle cx="762.0" cy="586.0" r="0.8" fill="#000"/>
<path class="s" d="M782,582.5 Q826,600 830,646" style="stroke-width:1.3"/>
<path class="s" d="M781,585 Q822,604 826,643" />
<polygon class="w" points="705.3,616.0 782.0,583.8 824.3,639.1 753.7,668.3" />
<polyline class="s" points="712.0,622.0 784.0,592.0" />
<polyline class="s" points="781.0,587.0 788.0,588.0" />
<path class="w" d="M687,617 Q742,626 752,677" style="stroke-width:1.6"/>
<path class="s" d="M684.5,622 Q738,633 747.5,678" style="stroke-width:1.2"/>
<path class="s" d="M684.5,622 L723.3,679" />
<path class="s" d="M690,625 Q722,648 735.7,679" style="stroke-width:1.4"/>
<polygon class="w" points="752.7,670.0 832.0,644.0 833.3,705.2 752.7,740.0" style="stroke-width:1.3"/>
<polyline class="t" points="753.0,669.5 832.0,643.5" />
<polyline class="s" points="754.0,676.0 831.0,651.0" />
<polygon class="w" points="725.6,679.0 735.7,679.0 735.7,740.0 725.6,737.0" />
<polygon class="w" points="735.7,679.0 752.7,679.0 752.7,740.0 735.7,740.0" style="stroke-width:1.2"/>
<polyline class="s" points="737.5,680.0 737.5,739.0" />
<polyline class="s" points="727.0,686.5 732.0,687.5" style="stroke-width:1.6"/>
<polyline class="s" points="727.0,725.0 732.0,726.0" style="stroke-width:1.6"/>
<polyline class="s" points="753.8,669.1 830.8,644.3" style="stroke-width:2"/>
<polyline class="s" points="753.8,675.8 830.8,650.5" style="stroke-width:1.8"/>
<polyline class="s" points="753.8,680.5 830.8,655.0" style="stroke-width:1"/>
<line x1="754.5" y1="684.0" x2="778" y2="675.6" stroke="#000" stroke-width="2.1"/>
<line x1="754.5" y1="688.6" x2="778" y2="680.2" stroke="#000" stroke-width="2.1"/>
<line x1="754.5" y1="693.2" x2="778" y2="684.8" stroke="#000" stroke-width="2.1"/>
<line x1="754.5" y1="697.8" x2="778" y2="689.4" stroke="#000" stroke-width="2.1"/>
<line x1="780" y1="676.5" x2="804" y2="668.0" stroke="#000" stroke-width="2.1"/>
<line x1="780" y1="681.1" x2="804" y2="672.6" stroke="#000" stroke-width="2.1"/>
<line x1="780" y1="685.7" x2="804" y2="677.2" stroke="#000" stroke-width="2.1"/>
<line x1="780" y1="690.3" x2="804" y2="681.8" stroke="#000" stroke-width="2.1"/>
<line x1="780" y1="694.9" x2="804" y2="686.4" stroke="#000" stroke-width="2.1"/>
<line x1="780" y1="699.5" x2="804" y2="691.0" stroke="#000" stroke-width="2.1"/>
<line x1="780" y1="704.1" x2="804" y2="695.6" stroke="#000" stroke-width="2.1"/>
<line x1="806" y1="666.5" x2="830.5" y2="657.8" stroke="#000" stroke-width="2.1"/>
<line x1="806" y1="671.1" x2="830.5" y2="662.4" stroke="#000" stroke-width="2.1"/>
<line x1="806" y1="675.7" x2="830.5" y2="667.0" stroke="#000" stroke-width="2.1"/>
<line x1="806" y1="680.3" x2="830.5" y2="671.6" stroke="#000" stroke-width="2.1"/>
<line x1="806" y1="684.9" x2="830.5" y2="676.2" stroke="#000" stroke-width="2.1"/>
<line x1="806" y1="689.5" x2="830.5" y2="680.8" stroke="#000" stroke-width="2.1"/>
<line x1="806" y1="694.1" x2="830.5" y2="685.4" stroke="#000" stroke-width="2.1"/>
<polyline class="s" points="779.0,676.0 779.0,707.0" style="stroke-width:2"/>
<polyline class="s" points="805.0,666.0 805.0,697.5" style="stroke-width:2"/>
<polyline class="s" points="783.8,707.4 805.0,699.0" style="stroke-width:1.6"/>
<polygon class="w" points="754.5,703.0 778.0,696.0 777.0,706.3 783.8,707.4 805.0,699.0 831.5,690.5 831.5,706.0 755.5,738.0" style="stroke-width:1.6"/>
<polygon class="s" points="758.5,708.0 777.0,703.0 777.0,709.5 784.0,711.0 828.5,694.5 828.5,704.0 758.5,733.0" />
<polygon class="w" points="777.0,692.9 783.8,690.8 783.8,707.4 777.0,706.3" style="stroke-width:1.3"/>
<polygon class="s" points="819.0,697.0 829.0,693.0 829.0,700.0 822.0,703.0" />
<polyline class="d" points="500.0,545.3 791.0,670.0" />
<polyline class="dd" points="663.2,143.3 722.1,167.3 715.0,171.0" />
<polygon class="w" points="636.0,138.3 713.6,171.2 713.6,214.3 636.0,182.1" style="stroke-width:1.3"/>
<circle cx="644.5" cy="151.0" r="1" fill="#000"/>
<circle cx="644.5" cy="178.6" r="1" fill="#000"/>
<circle cx="669.4" cy="161.6" r="1" fill="#000"/>
<circle cx="703.5" cy="175.8" r="1" fill="#000"/>
<circle cx="703.5" cy="203.5" r="1" fill="#000"/>
<polyline class="d" points="669.4,161.6 728.0,140.2" />
<polyline class="d" points="612.0,165.0 644.5,151.0" />
<polyline class="d" points="612.0,191.5 644.5,178.6" />
<polyline class="d" points="657.0,195.0 703.5,175.8" />
<polyline class="d" points="671.0,216.5 703.5,203.5" />
<polyline class="d" points="713.6,188.5 762.0,204.5" />
<polyline class="d" points="713.6,201.0 745.0,212.0" />
<polygon class="w" points="616.6,147.3 621.6,144.8 627.6,146.8 627.6,201.8 622.1,204.3 616.6,202.3" style="stroke-width:1.4"/>
<polyline class="s" points="616.6,147.3 622.1,149.3 627.6,146.8" style="stroke-width:1.2"/>
<polyline class="s" points="622.1,149.3 622.1,204.3" style="stroke-width:1.2"/>
<polygon class="w" points="676.8,171.4 681.8,168.9 687.8,170.9 687.8,224.4 682.3,226.9 676.8,224.9" style="stroke-width:1.4"/>
<polyline class="s" points="676.8,171.4 682.3,173.4 687.8,170.9" style="stroke-width:1.2"/>
<polyline class="s" points="682.3,173.4 682.3,226.9" style="stroke-width:1.2"/>
<ellipse class="f" cx="609.6" cy="165.8" rx="2.8" ry="1.6" transform="rotate(-25 609.6 165.8)"/>
<polyline class="s" points="611.6,164.8 616.6,162.6" style="stroke-width:1.8"/>
<ellipse class="f" cx="609.6" cy="192.1" rx="2.8" ry="1.6" transform="rotate(-25 609.6 192.1)"/>
<polyline class="s" points="611.6,191.1 616.6,188.9" style="stroke-width:1.8"/>
<ellipse class="f" cx="654.6" cy="196.0" rx="2.8" ry="1.6" transform="rotate(-25 654.6 196.0)"/>
<polyline class="s" points="656.6,195.0 661.6,192.8" style="stroke-width:1.8"/>
<ellipse class="f" cx="668.6" cy="217.4" rx="2.8" ry="1.6" transform="rotate(-25 668.6 217.4)"/>
<polyline class="s" points="670.6,216.4 675.6,214.2" style="stroke-width:1.8"/>
<polygon class="f" points="620.0,162.0 623.5,161.5 623.5,164.0 620.0,164.5" />
<polygon class="f" points="620.0,189.5 623.5,189.0 623.5,191.5 620.0,192.0" />
<polygon class="f" points="680.0,186.0 683.5,185.5 683.5,188.0 680.0,188.5" />
<polygon class="f" points="680.0,213.5 683.5,213.0 683.5,215.5 680.0,216.0" />
<polyline class="dd" points="742.0,122.0 700.0,140.0 760.0,168.0 790.0,155.0" />
<polyline class="dd" points="735.0,118.0 780.0,101.0 868.0,138.0 860.0,142.0" />
<polyline class="dd" points="767.0,139.0 812.0,120.0 860.0,142.0" />
<polyline class="dd" points="789.0,150.0 837.0,130.0 878.0,151.0 830.0,168.0" />
<polyline class="dd" points="790.0,97.0 828.0,82.0 916.0,120.0 886.0,133.0" />
<polyline class="dd" points="812.0,105.0 832.0,96.0" />
<polyline class="dd" points="825.0,110.0 848.0,101.0" />
<polyline class="dd" points="720.0,168.0 812.0,127.0" />
<polygon class="w" points="757.0,116.3 777.7,107.6 777.7,125.3 757.0,134.0" style="stroke-width:1.3"/>
<polygon class="w" points="777.7,107.6 799.3,98.5 799.3,107.8 777.7,116.9" style="stroke-width:1.3"/>
<line x1="757.0" y1="116.3" x2="757.0" y2="134.0" stroke="#000" stroke-width="1.7"/>
<line x1="759.1" y1="117.4" x2="759.1" y2="132.1" stroke="#000" stroke-width="0.7"/>
<line x1="761.2" y1="114.5" x2="761.2" y2="132.2" stroke="#000" stroke-width="1.7"/>
<line x1="763.3" y1="115.6" x2="763.3" y2="130.3" stroke="#000" stroke-width="0.7"/>
<line x1="765.5" y1="112.7" x2="765.5" y2="130.4" stroke="#000" stroke-width="1.7"/>
<line x1="767.6" y1="113.9" x2="767.6" y2="128.6" stroke="#000" stroke-width="0.7"/>
<line x1="769.7" y1="111.0" x2="769.7" y2="128.7" stroke="#000" stroke-width="1.7"/>
<line x1="771.8" y1="112.1" x2="771.8" y2="126.8" stroke="#000" stroke-width="0.7"/>
<line x1="773.9" y1="109.2" x2="773.9" y2="126.9" stroke="#000" stroke-width="1.7"/>
<line x1="776.0" y1="110.3" x2="776.0" y2="125.0" stroke="#000" stroke-width="0.7"/>
<line x1="778.1" y1="107.4" x2="778.1" y2="116.7" stroke="#000" stroke-width="1.7"/>
<line x1="780.3" y1="108.5" x2="780.3" y2="114.8" stroke="#000" stroke-width="0.7"/>
<line x1="782.4" y1="105.6" x2="782.4" y2="114.9" stroke="#000" stroke-width="1.7"/>
<line x1="784.5" y1="106.7" x2="784.5" y2="113.0" stroke="#000" stroke-width="0.7"/>
<line x1="786.6" y1="103.8" x2="786.6" y2="113.1" stroke="#000" stroke-width="1.7"/>
<line x1="788.7" y1="105.0" x2="788.7" y2="111.3" stroke="#000" stroke-width="0.7"/>
<line x1="790.8" y1="102.1" x2="790.8" y2="111.4" stroke="#000" stroke-width="1.7"/>
<line x1="793.0" y1="103.2" x2="793.0" y2="109.5" stroke="#000" stroke-width="0.7"/>
<line x1="795.1" y1="100.3" x2="795.1" y2="109.6" stroke="#000" stroke-width="1.7"/>
<line x1="797.2" y1="101.4" x2="797.2" y2="107.7" stroke="#000" stroke-width="0.7"/>
<line x1="799.3" y1="98.5" x2="799.3" y2="107.8" stroke="#000" stroke-width="1.7"/>
<polyline class="s" points="757.0,134.0 777.7,125.3" style="stroke-width:1.6"/>
<polyline class="s" points="777.7,116.9 799.3,107.8" style="stroke-width:1.6"/>
<polyline class="s" points="777.7,107.6 777.7,125.3" style="stroke-width:1.8"/>
<polygon class="w" points="740.7,109.9 783.0,92.1 799.3,98.5 757.0,116.3" style="stroke-width:1.3"/>
<polygon class="w" points="740.7,109.9 757.0,116.3 757.0,134.0 740.7,127.6" style="stroke-width:1.4"/>
<circle cx="750.5" cy="119.9" r="1.2" fill="#000"/>
<polygon class="w" points="752.5,104.5 764.5,98.5 776.5,103.5 764.5,109.5" style="stroke-width:1.8"/>
<polygon class="s" points="755.5,104.0 764.5,100.0 773.5,103.5 764.5,107.5" style="stroke-width:1.2"/>
<polyline class="s" points="752.5,104.5 752.5,106.5 764.5,112.0 776.5,106.0 776.5,103.5" style="stroke-width:1.6"/>
<ellipse class="f" cx="757.5" cy="102.0" rx="2.2" ry="1.6" />
<ellipse class="f" cx="771.5" cy="102.0" rx="2.2" ry="1.6" />
<ellipse class="f" cx="764.5" cy="98.5" rx="2.2" ry="1.6" />
<ellipse class="f" cx="764.5" cy="106.5" rx="2.2" ry="1.6" />
<ellipse class="f" cx="764.5" cy="103.0" rx="2.2" ry="2.6" />
<polyline class="s" points="764.5,97.0 764.5,88.0" style="stroke-width:2.5"/>
<ellipse class="f" cx="764.5" cy="86.0" rx="2.6" ry="1.5" />
<polygon class="w" points="778.0,87.5 785.0,84.5 795.0,85.5 795.0,88.0 788.0,91.0 778.0,89.5" style="stroke-width:1.5"/>
<ellipse class="s" cx="785.0" cy="87.5" rx="3.2" ry="1.6" style="stroke-width:1.2"/>
<polygon class="f" points="789.0,85.5 795.0,85.5 795.0,88.0 790.0,89.0" />
<polyline class="s" points="785.0,76.5 785.0,84.5" style="stroke-width:1.6"/>
<ellipse class="f" cx="785.0" cy="75.5" rx="2.0" ry="2.0" />
<polyline class="s" points="785.0,90.5 785.0,99.5" style="stroke-width:0.8"/>
<circle cx="785.0" cy="99.5" r="0.9" fill="#000"/>
<polygon class="w" points="791.3,131.4 812.2,122.4 812.2,139.9 791.3,148.9" style="stroke-width:1.3"/>
<polygon class="w" points="812.2,122.4 834.0,113.0 834.0,122.3 812.2,131.7" style="stroke-width:1.3"/>
<line x1="791.3" y1="131.4" x2="791.3" y2="148.9" stroke="#000" stroke-width="1.7"/>
<line x1="793.4" y1="132.5" x2="793.4" y2="147.0" stroke="#000" stroke-width="0.7"/>
<line x1="795.6" y1="129.6" x2="795.6" y2="147.1" stroke="#000" stroke-width="1.7"/>
<line x1="797.7" y1="130.6" x2="797.7" y2="145.1" stroke="#000" stroke-width="0.7"/>
<line x1="799.8" y1="127.7" x2="799.8" y2="145.2" stroke="#000" stroke-width="1.7"/>
<line x1="802.0" y1="128.8" x2="802.0" y2="143.3" stroke="#000" stroke-width="0.7"/>
<line x1="804.1" y1="125.9" x2="804.1" y2="143.4" stroke="#000" stroke-width="1.7"/>
<line x1="806.2" y1="127.0" x2="806.2" y2="141.5" stroke="#000" stroke-width="0.7"/>
<line x1="808.4" y1="124.0" x2="808.4" y2="141.5" stroke="#000" stroke-width="1.7"/>
<line x1="810.5" y1="125.1" x2="810.5" y2="139.6" stroke="#000" stroke-width="0.7"/>
<line x1="812.7" y1="122.2" x2="812.7" y2="131.5" stroke="#000" stroke-width="1.7"/>
<line x1="814.8" y1="123.3" x2="814.8" y2="129.6" stroke="#000" stroke-width="0.7"/>
<line x1="816.9" y1="120.4" x2="816.9" y2="129.7" stroke="#000" stroke-width="1.7"/>
<line x1="819.1" y1="121.4" x2="819.1" y2="127.7" stroke="#000" stroke-width="0.7"/>
<line x1="821.2" y1="118.5" x2="821.2" y2="127.8" stroke="#000" stroke-width="1.7"/>
<line x1="823.3" y1="119.6" x2="823.3" y2="125.9" stroke="#000" stroke-width="0.7"/>
<line x1="825.5" y1="116.7" x2="825.5" y2="126.0" stroke="#000" stroke-width="1.7"/>
<line x1="827.6" y1="117.8" x2="827.6" y2="124.1" stroke="#000" stroke-width="0.7"/>
<line x1="829.7" y1="114.8" x2="829.7" y2="124.1" stroke="#000" stroke-width="1.7"/>
<line x1="831.9" y1="115.9" x2="831.9" y2="122.2" stroke="#000" stroke-width="0.7"/>
<line x1="834.0" y1="113.0" x2="834.0" y2="122.3" stroke="#000" stroke-width="1.7"/>
<polyline class="s" points="791.3,148.9 812.2,139.9" style="stroke-width:1.6"/>
<polyline class="s" points="812.2,131.7 834.0,122.3" style="stroke-width:1.6"/>
<polyline class="s" points="812.2,122.4 812.2,139.9" style="stroke-width:1.8"/>
<polygon class="w" points="775.2,126.8 817.9,108.4 834.0,113.0 791.3,131.4" style="stroke-width:1.3"/>
<polygon class="w" points="775.2,126.8 791.3,131.4 791.3,148.9 775.2,144.3" style="stroke-width:1.4"/>
<circle cx="784.9" cy="135.7" r="1.2" fill="#000"/>
<polygon class="w" points="786.0,120.0 798.0,114.0 810.0,119.0 798.0,125.0" style="stroke-width:1.8"/>
<polygon class="s" points="789.0,119.5 798.0,115.5 807.0,119.0 798.0,123.0" style="stroke-width:1.2"/>
<polyline class="s" points="786.0,120.0 786.0,122.0 798.0,127.5 810.0,121.5 810.0,119.0" style="stroke-width:1.6"/>
<ellipse class="f" cx="791.0" cy="117.5" rx="2.2" ry="1.6" />
<ellipse class="f" cx="805.0" cy="117.5" rx="2.2" ry="1.6" />
<ellipse class="f" cx="798.0" cy="114.0" rx="2.2" ry="1.6" />
<ellipse class="f" cx="798.0" cy="122.0" rx="2.2" ry="1.6" />
<ellipse class="f" cx="798.0" cy="118.5" rx="2.2" ry="2.6" />
<polygon class="w" points="810.5,100.0 817.5,97.0 827.5,98.0 827.5,100.5 820.5,103.5 810.5,102.0" style="stroke-width:1.5"/>
<ellipse class="s" cx="817.5" cy="100.0" rx="3.2" ry="1.6" style="stroke-width:1.2"/>
<polygon class="f" points="821.5,98.0 827.5,98.0 827.5,100.5 822.5,101.5" />
<polyline class="s" points="817.5,89.0 817.5,97.0" style="stroke-width:1.6"/>
<ellipse class="f" cx="817.5" cy="88.0" rx="2.0" ry="2.0" />
<polyline class="s" points="817.5,103.0 817.5,112.0" style="stroke-width:0.8"/>
<circle cx="817.5" cy="112.0" r="0.9" fill="#000"/>
<polygon class="w" points="845.2,153.0 865.5,144.4 865.5,161.6 845.2,170.2" style="stroke-width:1.3"/>
<polygon class="w" points="865.5,144.4 886.7,135.5 886.7,145.0 865.5,153.9" style="stroke-width:1.3"/>
<line x1="845.2" y1="153.0" x2="845.2" y2="170.2" stroke="#000" stroke-width="1.7"/>
<line x1="847.3" y1="154.1" x2="847.3" y2="168.3" stroke="#000" stroke-width="0.7"/>
<line x1="849.4" y1="151.2" x2="849.4" y2="168.4" stroke="#000" stroke-width="1.7"/>
<line x1="851.4" y1="152.4" x2="851.4" y2="166.6" stroke="#000" stroke-width="0.7"/>
<line x1="853.5" y1="149.5" x2="853.5" y2="166.7" stroke="#000" stroke-width="1.7"/>
<line x1="855.6" y1="150.6" x2="855.6" y2="164.8" stroke="#000" stroke-width="0.7"/>
<line x1="857.7" y1="147.8" x2="857.7" y2="164.9" stroke="#000" stroke-width="1.7"/>
<line x1="859.7" y1="148.9" x2="859.7" y2="163.1" stroke="#000" stroke-width="0.7"/>
<line x1="861.8" y1="146.0" x2="861.8" y2="163.2" stroke="#000" stroke-width="1.7"/>
<line x1="863.9" y1="147.1" x2="863.9" y2="161.3" stroke="#000" stroke-width="0.7"/>
<line x1="866.0" y1="144.2" x2="866.0" y2="153.8" stroke="#000" stroke-width="1.7"/>
<line x1="868.0" y1="145.4" x2="868.0" y2="151.9" stroke="#000" stroke-width="0.7"/>
<line x1="870.1" y1="142.5" x2="870.1" y2="152.0" stroke="#000" stroke-width="1.7"/>
<line x1="872.2" y1="143.6" x2="872.2" y2="150.1" stroke="#000" stroke-width="0.7"/>
<line x1="874.2" y1="140.8" x2="874.2" y2="150.2" stroke="#000" stroke-width="1.7"/>
<line x1="876.3" y1="141.9" x2="876.3" y2="148.4" stroke="#000" stroke-width="0.7"/>
<line x1="878.4" y1="139.0" x2="878.4" y2="148.5" stroke="#000" stroke-width="1.7"/>
<line x1="880.5" y1="140.1" x2="880.5" y2="146.6" stroke="#000" stroke-width="0.7"/>
<line x1="882.6" y1="137.2" x2="882.6" y2="146.8" stroke="#000" stroke-width="1.7"/>
<line x1="884.6" y1="138.4" x2="884.6" y2="144.9" stroke="#000" stroke-width="0.7"/>
<line x1="886.7" y1="135.5" x2="886.7" y2="145.0" stroke="#000" stroke-width="1.7"/>
<polyline class="s" points="845.2,170.2 865.5,161.6" style="stroke-width:1.6"/>
<polyline class="s" points="865.5,153.9 886.7,145.0" style="stroke-width:1.6"/>
<polyline class="s" points="865.5,144.4 865.5,161.6" style="stroke-width:1.8"/>
<polygon class="w" points="812.7,141.6 854.2,124.1 886.7,135.5 845.2,153.0" style="stroke-width:1.3"/>
<polygon class="w" points="812.7,141.6 845.2,153.0 845.2,170.2 812.7,158.8" style="stroke-width:1.4"/>
<circle cx="832.2" cy="154.5" r="1.2" fill="#000"/>
<ellipse class="w" cx="852.5" cy="135.5" rx="7.0" ry="3.5" style="stroke-width:1.6"/>
<ellipse class="f" cx="852.5" cy="134.0" rx="3.0" ry="3.0" />
<polygon class="f" points="849.0,128.0 852.5,124.0 856.0,128.0" />
<polyline class="s" points="843.5,136.0 843.5,141.0" style="stroke-width:1.2"/>
<ellipse class="f" cx="843.5" cy="135.0" rx="1.6" ry="1.6" />
<polyline class="s" points="861.5,134.0 861.5,139.0" style="stroke-width:1.2"/>
<ellipse class="f" cx="861.5" cy="133.0" rx="1.6" ry="1.6" />
<polyline class="s" points="846.5,140.0 846.5,145.0" style="stroke-width:1.2"/>
<ellipse class="f" cx="846.5" cy="139.0" rx="1.6" ry="1.6" />
<polyline class="s" points="858.5,139.0 858.5,144.0" style="stroke-width:1.2"/>
<ellipse class="f" cx="858.5" cy="138.0" rx="1.6" ry="1.6" />
<polygon class="w" points="843.0,116.5 850.0,113.5 860.0,114.5 860.0,117.0 853.0,120.0 843.0,118.5" style="stroke-width:1.5"/>
<ellipse class="s" cx="850.0" cy="116.5" rx="3.2" ry="1.6" style="stroke-width:1.2"/>
<polygon class="f" points="854.0,114.5 860.0,114.5 860.0,117.0 855.0,118.0" />
<polyline class="s" points="850.0,105.5 850.0,113.5" style="stroke-width:1.6"/>
<ellipse class="f" cx="850.0" cy="104.5" rx="2.0" ry="2.0" />
<polyline class="s" points="850.0,119.5 850.0,128.5" style="stroke-width:0.8"/>
<circle cx="850.0" cy="128.5" r="0.9" fill="#000"/>
<polygon class="w" points="863.0,122.0 870.0,119.0 880.0,120.0 880.0,122.5 873.0,125.5 863.0,124.0" style="stroke-width:1.5"/>
<ellipse class="s" cx="870.0" cy="122.0" rx="3.2" ry="1.6" style="stroke-width:1.2"/>
<polygon class="f" points="874.0,120.0 880.0,120.0 880.0,122.5 875.0,123.5" />
<polyline class="s" points="870.0,111.0 870.0,119.0" style="stroke-width:1.6"/>
<ellipse class="f" cx="870.0" cy="110.0" rx="2.0" ry="2.0" />
<polyline class="s" points="870.0,125.0 870.0,134.0" style="stroke-width:0.8"/>
<circle cx="870.0" cy="134.0" r="0.9" fill="#000"/>
<polygon class="w" points="914.9,30.5 1027.9,77.5 1027.9,144.8 914.9,98.8" style="stroke-width:1"/>
<polyline class="t" points="914.9,98.8 914.9,30.5 1027.9,77.5 1027.9,144.8" />
<polyline class="s" points="914.9,98.8 1027.9,144.8" style="stroke-width:1.4"/>
<polygon class="w" points="920.3,41.5 924.8,39.5 930.3,41.9 930.3,45.0 925.8,46.2 920.3,44.5" style="stroke-width:1.4"/>
<polyline class="s" points="920.3,41.5 925.8,43.5 930.3,41.9" />
<polyline class="s" points="925.8,43.5 925.8,46.2" />
<polygon class="w" points="936.6,48.5 941.0,46.2 945.6,48.0 941.0,50.5" style="stroke-width:1.3"/>
<polyline class="s" points="936.6,48.5 936.6,49.5 941.0,51.7 945.6,49.2 945.6,48.0" />
<polygon class="f" points="925.7,54.5 931.0,52.5 934.8,54.2 929.5,56.4" />
<polyline class="s" points="947.0,53.5 947.0,57.0" style="stroke-width:1.6"/>
<polygon class="w" points="917.6,63.0 928.0,58.9 939.3,62.5 939.3,66.0 929.0,70.0 917.6,66.5" style="stroke-width:1.6"/>
<polygon class="s" points="920.5,63.0 928.0,60.5 936.5,63.0 929.0,66.0" style="stroke-width:1.2"/>
<polyline class="s" points="917.6,63.0 929.0,67.0 939.3,62.5" />
<polygon class="w" points="945.6,58.5 958.5,55.3 969.1,58.5 969.1,70.0 954.0,76.5 945.6,75.0" style="stroke-width:1.6"/>
<polyline class="s" points="945.6,58.5 953.0,61.0 969.1,58.5" />
<polyline class="s" points="953.0,61.0 953.0,76.5" style="stroke-width:1.3"/>
<polygon class="s" points="955.0,62.5 967.0,59.5 967.0,69.0 955.0,74.0" style="stroke-width:1.3"/>
<polygon class="s" points="957.0,63.5 965.0,61.5 965.0,68.0 957.0,72.0" />
<ellipse class="s" cx="973.0" cy="68.5" rx="1.6" ry="1.2" />
<ellipse class="s" cx="976.5" cy="67.5" rx="1.6" ry="1.2" />
<ellipse class="s" cx="974.5" cy="73.5" rx="1.6" ry="1.2" />
<polygon class="w" points="1011.6,78.0 1016.1,76.0 1021.6,78.4 1021.6,80.5 1017.1,81.7 1011.6,80.0" style="stroke-width:1.4"/>
<polyline class="s" points="1011.6,78.0 1017.1,80.0 1021.6,78.4" />
<polyline class="s" points="1017.1,80.0 1017.1,81.7" />
<polygon class="w" points="999.0,89.0 1006.0,86.0 1014.3,89.5 1014.3,95.0 1007.0,97.8 999.0,95.0" style="stroke-width:1.5"/>
<polyline class="s" points="999.0,89.0 1007.0,92.0 1014.3,89.5" />
<polyline class="s" points="1007.0,92.0 1007.0,97.8" />
<polygon class="s" points="1002.0,92.0 1005.0,91.0 1005.0,95.0 1002.0,96.0" />
<polyline class="s" points="965.0,104.5 986.0,114.0 1001.5,121.8 1006.0,121.5" style="stroke-width:0.9"/>
<polyline class="s" points="972.0,100.0 990.0,107.0 1015.0,116.0 1018.2,113.8" style="stroke-width:0.9"/>
<polyline class="s" points="964.0,116.0 984.0,124.0 1000.0,131.5 1002.8,131.5" style="stroke-width:0.9"/>
<circle cx="967.5" cy="105.4" r="1.3" fill="#000"/>
<circle cx="991.3" cy="102.3" r="1.3" fill="#000"/>
<circle cx="1002.8" cy="107.7" r="1.3" fill="#000"/>
<circle cx="1018.2" cy="113.8" r="1.3" fill="#000"/>
<circle cx="986.7" cy="113.0" r="1.3" fill="#000"/>
<circle cx="1005.9" cy="121.5" r="1.3" fill="#000"/>
<circle cx="1002.8" cy="131.5" r="1.3" fill="#000"/>
<circle cx="1022.0" cy="140.7" r="1.3" fill="#000"/>
<circle cx="965.2" cy="116.1" r="1.3" fill="#000"/>
<circle cx="976.0" cy="110.0" r="1.3" fill="#000"/>
<circle cx="983.0" cy="98.0" r="1.3" fill="#000"/>
<polygon class="s" points="955.2,120.0 962.9,116.9 996.7,133.0 990.6,135.3" style="stroke-width:0.9"/>
<polyline class="s" points="982.9,115.4 982.9,124.6" style="stroke-width:0.9"/>
<polyline class="d" points="900.0,166.0 979.8,130.7" />
<polyline class="d" points="919.9,175.2 950.6,162.6 950.6,138.7 978.3,126.9" />
<path class="w" d="M903.5,98.5 L903.5,102.3 A17,7.6 0 0 0 937.5,102.3 L937.5,98.5 Z" style="stroke-width:1.6"/>
<polyline class="s" points="937.4,99.4 937.4,103.2" style="stroke-width:1.4"/>
<polyline class="s" points="936.5,101.0 936.5,104.8" style="stroke-width:1.4"/>
<polyline class="s" points="934.9,102.5 934.9,106.3" style="stroke-width:1.4"/>
<polyline class="s" points="932.5,103.9 932.5,107.7" style="stroke-width:1.4"/>
<polyline class="s" points="929.5,104.9 929.5,108.7" style="stroke-width:1.4"/>
<polyline class="s" points="926.1,105.7 926.1,109.5" style="stroke-width:1.4"/>
<polyline class="s" points="922.4,106.1 922.4,109.9" style="stroke-width:1.4"/>
<polyline class="s" points="918.6,106.1 918.6,109.9" style="stroke-width:1.4"/>
<polyline class="s" points="914.9,105.7 914.9,109.5" style="stroke-width:1.4"/>
<polyline class="s" points="911.5,104.9 911.5,108.7" style="stroke-width:1.4"/>
<polyline class="s" points="908.5,103.9 908.5,107.7" style="stroke-width:1.4"/>
<polyline class="s" points="906.1,102.5 906.1,106.3" style="stroke-width:1.4"/>
<polyline class="s" points="904.5,101.0 904.5,104.8" style="stroke-width:1.4"/>
<polyline class="s" points="903.6,99.4 903.6,103.2" style="stroke-width:1.4"/>
<ellipse class="w" cx="920.5" cy="98.5" rx="17.0" ry="7.6" style="stroke-width:1.7"/>
<ellipse class="w" cx="920.5" cy="98.5" rx="8.5" ry="3.6" style="stroke-width:1.5"/>
<polyline class="s" points="929.0,98.5 937.5,98.5" style="stroke-width:1.5"/>
<polyline class="s" points="928.7,99.5 936.8,100.6" style="stroke-width:1.5"/>
<polyline class="s" points="927.7,100.4 934.8,102.6" style="stroke-width:1.5"/>
<polyline class="s" points="926.1,101.2 931.6,104.2" style="stroke-width:1.5"/>
<polyline class="s" points="924.0,101.8 927.6,105.4" style="stroke-width:1.5"/>
<polyline class="s" points="921.7,102.1 922.9,106.0" style="stroke-width:1.5"/>
<polyline class="s" points="919.3,102.1 918.1,106.0" style="stroke-width:1.5"/>
<polyline class="s" points="917.0,101.8 913.4,105.4" style="stroke-width:1.5"/>
<polyline class="s" points="914.9,101.2 909.4,104.2" style="stroke-width:1.5"/>
<polyline class="s" points="913.3,100.4 906.2,102.6" style="stroke-width:1.5"/>
<polyline class="s" points="912.3,99.5 904.2,100.6" style="stroke-width:1.5"/>
<polyline class="s" points="912.0,98.5 903.5,98.5" style="stroke-width:1.5"/>
<polyline class="s" points="912.3,97.5 904.2,96.4" style="stroke-width:1.5"/>
<polyline class="s" points="913.3,96.6 906.2,94.4" style="stroke-width:1.5"/>
<polyline class="s" points="914.9,95.8 909.4,92.8" style="stroke-width:1.5"/>
<polyline class="s" points="917.0,95.2 913.4,91.6" style="stroke-width:1.5"/>
<polyline class="s" points="919.3,94.9 918.1,91.0" style="stroke-width:1.5"/>
<polyline class="s" points="921.7,94.9 922.9,91.0" style="stroke-width:1.5"/>
<polyline class="s" points="924.0,95.2 927.6,91.6" style="stroke-width:1.5"/>
<polyline class="s" points="926.1,95.8 931.6,92.8" style="stroke-width:1.5"/>
<polyline class="s" points="927.7,96.6 934.8,94.4" style="stroke-width:1.5"/>
<polyline class="s" points="928.7,97.5 936.8,96.4" style="stroke-width:1.5"/>
<polygon class="w" points="913.5,97.0 913.5,76.0 920.0,73.0 933.0,76.0 938.5,80.0 938.5,96.0 930.0,101.0 918.0,100.0" style="stroke-width:1.5"/>
<path d="M914,78 L924,76 L930,80 L930,92 L922,97 L914,95 Z" fill="#1a1a1a"/>
<polyline class="s" points="915.5,80.0 915.5,95.0" style="stroke:#fff;stroke-width:0.8"/>
<polyline class="s" points="918.7,80.3 918.7,95.0" style="stroke:#fff;stroke-width:0.8"/>
<polyline class="s" points="921.9,80.6 921.9,95.0" style="stroke:#fff;stroke-width:0.8"/>
<polyline class="s" points="925.1,80.9 925.1,95.0" style="stroke:#fff;stroke-width:0.8"/>
<polyline class="s" points="928.3,81.2 928.3,95.0" style="stroke:#fff;stroke-width:0.8"/>
<polyline class="s" points="915.0,86.0 929.0,86.5" style="stroke:#fff;stroke-width:0.7"/>
<polygon class="w" points="930.0,77.0 936.0,76.0 939.0,79.0 939.0,87.0 933.0,89.0 930.0,85.0" style="stroke-width:1.5"/>
<ellipse class="s" cx="934.5" cy="80.5" rx="2.4" ry="2.0" style="stroke-width:1.2"/>
<polygon class="w" points="929.0,88.0 937.0,86.0 939.0,90.0 939.0,96.0 931.0,99.0 929.0,95.0" style="stroke-width:1.4"/>
<polyline class="s" points="917.0,76.0 917.0,72.0 921.0,70.5" style="stroke-width:1.6"/>
<circle cx="918.0" cy="71.0" r="1.6" fill="#000"/>
<polygon class="f" points="935.0,70.5 942.0,68.0 944.0,71.0 937.0,73.5" />
<polyline class="s" points="892.2,163.2 947.1,190.6 942.0,192.0" />
<path class="w" d="M862.1,169.5 L885.3,160.7 A4.5,6.2 -20 0 1 894.3,171.8 L871.1,180.6 Z" style="stroke-width:1.5"/>
<ellipse class="w" cx="865.3" cy="174.8" rx="6.9" ry="5.8" style="stroke-width:2.6" transform="rotate(-25 865.3 174.8)"/>
<ellipse class="w" cx="865.6" cy="174.8" rx="3.7" ry="3.1" style="stroke-width:1.5" transform="rotate(-25 865.3 174.8)"/>
<path class="w" d="M877.9,179.5 L901.1,170.7 A4.5,6.2 -20 0 1 910.1,181.8 L886.9,190.6 Z" style="stroke-width:1.5"/>
<ellipse class="w" cx="881.1" cy="184.8" rx="6.9" ry="5.8" style="stroke-width:2.6" transform="rotate(-25 881.1 184.8)"/>
<ellipse class="w" cx="881.4" cy="184.8" rx="3.7" ry="3.1" style="stroke-width:1.5" transform="rotate(-25 881.1 184.8)"/>
<path class="w" d="M894.8,189.0 L918.0,180.2 A4.5,6.2 -20 0 1 927.0,191.3 L903.8,200.1 Z" style="stroke-width:1.5"/>
<ellipse class="w" cx="898.0" cy="194.3" rx="6.9" ry="5.8" style="stroke-width:2.6" transform="rotate(-25 898.0 194.3)"/>
<ellipse class="w" cx="898.3" cy="194.3" rx="3.7" ry="3.1" style="stroke-width:1.5" transform="rotate(-25 898.0 194.3)"/>
<path class="w" d="M914.4,197.5 L937.6,188.7 A4.5,6.2 -20 0 1 946.6,199.8 L923.4,208.6 Z" style="stroke-width:1.5"/>
<ellipse class="w" cx="917.6" cy="202.8" rx="6.9" ry="5.8" style="stroke-width:2.6" transform="rotate(-25 917.6 202.8)"/>
<ellipse class="w" cx="917.9" cy="202.8" rx="3.7" ry="3.1" style="stroke-width:1.5" transform="rotate(-25 917.6 202.8)"/>
<polygon class="s" points="817.4,179.4 867.3,200.0 867.3,202.0 817.4,181.4" />
<polygon class="w" points="761.2,186.2 803.6,176.2 877.2,206.1 877.2,216.5 834.8,233.6 761.2,203.7" style="stroke-width:1.4"/>
<line x1="761.2" y1="186.2" x2="834.8" y2="216.1" stroke="#000" stroke-width="1.8"/>
<line x1="762.4" y1="186.4" x2="836.0" y2="216.3" stroke="#000" stroke-width="0.7"/>
<line x1="834.8" y1="216.1" x2="834.8" y2="231.1" stroke="#000" stroke-width="1.6"/>
<line x1="836.4" y1="215.8" x2="836.4" y2="230.6" stroke="#000" stroke-width="0.7"/>
<line x1="765.4" y1="185.2" x2="839.0" y2="215.1" stroke="#000" stroke-width="1.8"/>
<line x1="766.6" y1="185.4" x2="840.2" y2="215.3" stroke="#000" stroke-width="0.7"/>
<line x1="839.0" y1="215.1" x2="839.0" y2="229.4" stroke="#000" stroke-width="1.6"/>
<line x1="840.6" y1="214.8" x2="840.6" y2="228.9" stroke="#000" stroke-width="0.7"/>
<line x1="769.7" y1="184.2" x2="843.3" y2="214.1" stroke="#000" stroke-width="1.8"/>
<line x1="770.9" y1="184.4" x2="844.5" y2="214.3" stroke="#000" stroke-width="0.7"/>
<line x1="843.3" y1="214.1" x2="843.3" y2="227.7" stroke="#000" stroke-width="1.6"/>
<line x1="844.9" y1="213.8" x2="844.9" y2="227.2" stroke="#000" stroke-width="0.7"/>
<line x1="773.9" y1="183.2" x2="847.5" y2="213.1" stroke="#000" stroke-width="1.8"/>
<line x1="775.1" y1="183.4" x2="848.7" y2="213.3" stroke="#000" stroke-width="0.7"/>
<line x1="847.5" y1="213.1" x2="847.5" y2="226.0" stroke="#000" stroke-width="1.6"/>
<line x1="849.1" y1="212.8" x2="849.1" y2="225.5" stroke="#000" stroke-width="0.7"/>
<line x1="778.2" y1="182.2" x2="851.8" y2="212.1" stroke="#000" stroke-width="1.8"/>
<line x1="779.4" y1="182.4" x2="853.0" y2="212.3" stroke="#000" stroke-width="0.7"/>
<line x1="851.8" y1="212.1" x2="851.8" y2="224.3" stroke="#000" stroke-width="1.6"/>
<line x1="853.4" y1="211.8" x2="853.4" y2="223.8" stroke="#000" stroke-width="0.7"/>
<line x1="782.4" y1="181.2" x2="856.0" y2="211.1" stroke="#000" stroke-width="1.8"/>
<line x1="783.6" y1="181.4" x2="857.2" y2="211.3" stroke="#000" stroke-width="0.7"/>
<line x1="856.0" y1="211.1" x2="856.0" y2="222.6" stroke="#000" stroke-width="1.6"/>
<line x1="857.6" y1="210.8" x2="857.6" y2="222.1" stroke="#000" stroke-width="0.7"/>
<line x1="786.6" y1="180.2" x2="860.2" y2="210.1" stroke="#000" stroke-width="1.8"/>
<line x1="787.8" y1="180.4" x2="861.4" y2="210.3" stroke="#000" stroke-width="0.7"/>
<line x1="860.2" y1="210.1" x2="860.2" y2="220.8" stroke="#000" stroke-width="1.6"/>
<line x1="861.8" y1="209.8" x2="861.8" y2="220.3" stroke="#000" stroke-width="0.7"/>
<line x1="790.9" y1="179.2" x2="864.5" y2="209.1" stroke="#000" stroke-width="1.8"/>
<line x1="792.1" y1="179.4" x2="865.7" y2="209.3" stroke="#000" stroke-width="0.7"/>
<line x1="864.5" y1="209.1" x2="864.5" y2="219.1" stroke="#000" stroke-width="1.6"/>
<line x1="866.1" y1="208.8" x2="866.1" y2="218.6" stroke="#000" stroke-width="0.7"/>
<line x1="795.1" y1="178.2" x2="868.7" y2="208.1" stroke="#000" stroke-width="1.8"/>
<line x1="796.3" y1="178.4" x2="869.9" y2="208.3" stroke="#000" stroke-width="0.7"/>
<line x1="868.7" y1="208.1" x2="868.7" y2="217.4" stroke="#000" stroke-width="1.6"/>
<line x1="870.3" y1="207.8" x2="870.3" y2="216.9" stroke="#000" stroke-width="0.7"/>
<line x1="799.4" y1="177.2" x2="873.0" y2="207.1" stroke="#000" stroke-width="1.8"/>
<line x1="800.6" y1="177.4" x2="874.2" y2="207.3" stroke="#000" stroke-width="0.7"/>
<line x1="873.0" y1="207.1" x2="873.0" y2="215.7" stroke="#000" stroke-width="1.6"/>
<line x1="874.6" y1="206.8" x2="874.6" y2="215.2" stroke="#000" stroke-width="0.7"/>
<line x1="803.6" y1="176.2" x2="877.2" y2="206.1" stroke="#000" stroke-width="1.8"/>
<line x1="877.2" y1="206.1" x2="877.2" y2="214.0" stroke="#000" stroke-width="1.6"/>
<polyline class="s" points="834.8,233.6 877.2,216.5" style="stroke-width:1.6"/>
<polyline class="s" points="834.8,230.6 877.2,213.5" style="stroke-width:1.2"/>
<polygon class="w" points="761.2,186.2 834.8,216.1 834.8,233.6 761.2,203.7" style="stroke-width:1.4"/>
<polyline class="s" points="761.2,187.7 834.8,217.6" style="stroke-width:0.8"/>
<circle cx="768.1" cy="203.0" r="1.2" fill="#000"/>
<circle cx="775.0" cy="204.5" r="1.2" fill="#000"/>
<circle cx="819.9" cy="224.9" r="1.2" fill="#000"/>
<polyline class="s" points="786.2,215.0 786.2,228.8" style="stroke-width:0.9"/>
<polyline class="s" points="797.6,222.0 797.6,233.0" style="stroke-width:0.9"/>
<polyline class="s" points="810.4,225.0 810.4,239.0" style="stroke-width:0.9"/>
<polyline class="s" points="821.6,230.0 821.6,244.0" style="stroke-width:0.9"/>
<polyline class="s" points="836.3,232.3 836.3,249.5" style="stroke-width:0.9"/>
<polyline class="s" points="848.0,228.8 848.0,244.4" style="stroke-width:0.9"/>
<polygon class="w" points="781.1,228.9 786.1,225.4 793.1,226.9 793.1,229.4 788.1,232.4 781.1,230.9" style="stroke-width:1.7"/>
<ellipse class="s" cx="787.1" cy="228.6" rx="2.6" ry="1.5" style="stroke-width:1.3"/>
<polygon class="f" points="791.1,224.9 796.1,222.9 801.1,224.4 801.1,226.4 796.1,228.4 791.1,227.4" />
<polyline class="s" points="796.1,223.2 799.1,225.6" style="stroke:#fff;stroke-width:0.8"/>
<polygon class="w" points="792.3,234.1 797.3,230.6 804.3,232.1 804.3,234.6 799.3,237.6 792.3,236.1" style="stroke-width:1.7"/>
<ellipse class="s" cx="798.3" cy="233.8" rx="2.6" ry="1.5" style="stroke-width:1.3"/>
<polygon class="f" points="802.3,230.1 807.3,228.1 812.3,229.6 812.3,231.6 807.3,233.6 802.3,232.6" />
<polyline class="s" points="807.3,228.4 810.3,230.8" style="stroke:#fff;stroke-width:0.8"/>
<polygon class="w" points="805.3,239.7 810.3,236.2 817.3,237.7 817.3,240.2 812.3,243.2 805.3,241.7" style="stroke-width:1.7"/>
<ellipse class="s" cx="811.3" cy="239.4" rx="2.6" ry="1.5" style="stroke-width:1.3"/>
<polygon class="f" points="815.3,235.7 820.3,233.7 825.3,235.2 825.3,237.2 820.3,239.2 815.3,238.2" />
<polyline class="s" points="820.3,234.0 823.3,236.4" style="stroke:#fff;stroke-width:0.8"/>
<polygon class="w" points="817.4,244.9 822.4,241.4 829.4,242.9 829.4,245.4 824.4,248.4 817.4,246.9" style="stroke-width:1.7"/>
<ellipse class="s" cx="823.4" cy="244.6" rx="2.6" ry="1.5" style="stroke-width:1.3"/>
<polygon class="f" points="827.4,240.9 832.4,238.9 837.4,240.4 837.4,242.4 832.4,244.4 827.4,243.4" />
<polyline class="s" points="832.4,239.2 835.4,241.6" style="stroke:#fff;stroke-width:0.8"/>
<polygon class="w" points="831.2,250.9 836.2,247.4 843.2,248.9 843.2,251.4 838.2,254.4 831.2,252.9" style="stroke-width:1.7"/>
<ellipse class="s" cx="837.2" cy="250.6" rx="2.6" ry="1.5" style="stroke-width:1.3"/>
<polygon class="f" points="841.2,246.9 846.2,244.9 851.2,246.4 851.2,248.4 846.2,250.4 841.2,249.4" />
<polyline class="s" points="846.2,245.2 849.2,247.6" style="stroke:#fff;stroke-width:0.8"/>
<polygon class="w" points="843.3,256.1 848.3,252.6 855.3,254.1 855.3,256.6 850.3,259.6 843.3,258.1" style="stroke-width:1.7"/>
<ellipse class="s" cx="849.3" cy="255.8" rx="2.6" ry="1.5" style="stroke-width:1.3"/>
<polygon class="f" points="853.3,252.1 858.3,250.1 863.3,251.6 863.3,253.6 858.3,255.6 853.3,254.6" />
<polyline class="s" points="858.3,250.4 861.3,252.8" style="stroke:#fff;stroke-width:0.8"/>
<polygon class="f" points="784.9,235.9 787.5,235.9 787.5,238.9 788.4,239.9 787.4,241.4 785.0,241.4 784.0,239.9 784.9,238.9" />
<polyline class="s" points="786.2,241.4 786.2,244.4" style="stroke-width:0.9"/>
<polygon class="f" points="796.2,241.9 798.8,241.9 798.8,244.9 799.7,245.9 798.7,247.4 796.3,247.4 795.3,245.9 796.2,244.9" />
<polyline class="s" points="797.5,247.4 797.5,250.4" style="stroke-width:0.9"/>
<polygon class="f" points="809.1,247.0 811.7,247.0 811.7,250.0 812.6,251.0 811.6,252.5 809.2,252.5 808.2,251.0 809.1,250.0" />
<polyline class="s" points="810.4,252.5 810.4,255.5" style="stroke-width:0.9"/>
<polygon class="f" points="820.3,252.3 822.9,252.3 822.9,255.3 823.8,256.3 822.8,257.8 820.4,257.8 819.4,256.3 820.3,255.3" />
<polyline class="s" points="821.6,257.8 821.6,260.8" style="stroke-width:0.9"/>
<polygon class="f" points="835.0,258.3 837.6,258.3 837.6,261.3 838.5,262.3 837.5,263.8 835.1,263.8 834.1,262.3 835.0,261.3" />
<polyline class="s" points="836.3,263.8 836.3,266.8" style="stroke-width:0.9"/>
<polygon class="f" points="846.2,263.5 848.8,263.5 848.8,266.5 849.7,267.5 848.7,269.0 846.3,269.0 845.3,267.5 846.2,266.5" />
<polyline class="s" points="847.5,269.0 847.5,272.0" style="stroke-width:0.9"/>
<text x="211.0" y="139.0" font-size="13.6" textLength="5.5" lengthAdjust="spacingAndGlyphs" style="font-family:&quot;Liberation Serif&quot;,serif">1</text>
<line class="u" x1="200.0" y1="140.4" x2="225.0" y2="140.4"/>
<polyline class="u" points="225.0,140.4 266.0,187.8" />
<text x="150.4" y="231.0" font-size="14.0" textLength="10.3" lengthAdjust="spacingAndGlyphs">2</text>
<line class="u" x1="140.0" y1="232.3" x2="164.6" y2="232.3"/>
<polyline class="u" points="164.6,232.3 191.7,260.7" />
<text x="135.0" y="340.0" font-size="13.3" textLength="9.0" lengthAdjust="spacingAndGlyphs">3</text>
<line class="u" x1="123.0" y1="340.8" x2="148.0" y2="340.8"/>
<polyline class="u" points="148.0,340.8 178.8,368.0" />
<text x="220.0" y="344.0" font-size="14.0" textLength="8.5" lengthAdjust="spacingAndGlyphs">4</text>
<line class="u" x1="208.5" y1="344.7" x2="233.0" y2="344.7"/>
<polyline class="u" points="208.5,344.7 204.6,378.3" />
<text x="262.8" y="350.0" font-size="14.7" textLength="7.7" lengthAdjust="spacingAndGlyphs">5</text>
<line class="u" x1="255.0" y1="352.0" x2="278.0" y2="352.0"/>
<polyline class="u" points="278.0,352.0 299.0,334.4" />
<text x="266.7" y="378.0" font-size="14.0" textLength="9.0" lengthAdjust="spacingAndGlyphs">6</text>
<line class="u" x1="252.5" y1="378.8" x2="288.6" y2="378.8"/>
<polyline class="u" points="252.5,378.8 232.0,404.0" />
<text x="118.0" y="375.7" font-size="14.9" textLength="9.0" lengthAdjust="spacingAndGlyphs">7</text>
<line class="u" x1="107.0" y1="377.8" x2="132.3" y2="377.8"/>
<polyline class="u" points="132.3,377.8 153.0,405.0" />
<text x="21.7" y="458.6" font-size="13.0" textLength="9.3" lengthAdjust="spacingAndGlyphs">8</text>
<line class="u" x1="10.2" y1="460.2" x2="35.7" y2="460.2"/>
<polyline class="u" points="35.7,460.2 55.8,485.0" />
<text x="151.7" y="467.0" font-size="14.0" textLength="9.0" lengthAdjust="spacingAndGlyphs">9</text>
<line class="u" x1="141.0" y1="469.0" x2="166.0" y2="469.0"/>
<polyline class="u" points="166.0,469.0 178.8,442.7" />
<text x="137.5" y="502.0" font-size="15.5" textLength="14.2" lengthAdjust="spacingAndGlyphs" style="font-family:&quot;Liberation Serif&quot;,serif">10</text>
<line class="u" x1="135.0" y1="503.4" x2="159.4" y2="503.4"/>
<polyline class="u" points="159.4,503.4 173.6,484.0" />
<text x="185.0" y="507.3" font-size="15.6" textLength="12.0" lengthAdjust="spacingAndGlyphs" style="font-family:&quot;Liberation Serif&quot;,serif">11</text>
<line class="u" x1="175.0" y1="507.8" x2="198.0" y2="507.8"/>
<polyline class="u" points="198.0,507.8 222.7,522.8" />
<text x="343.3" y="655.5" font-size="13.3" textLength="15.6" lengthAdjust="spacingAndGlyphs">12</text>
<line class="u" x1="339.9" y1="659.5" x2="364.9" y2="659.5"/>
<polyline class="u" points="364.9,659.5 385.6,623.5" />
<text x="517.0" y="680.4" font-size="13.8" textLength="17.0" lengthAdjust="spacingAndGlyphs">13</text>
<line class="u" x1="514.2" y1="681.8" x2="539.8" y2="681.8"/>
<polyline class="u" points="539.8,681.8 558.3,647.7" />
<text x="578.0" y="693.0" font-size="14.0" textLength="17.0" lengthAdjust="spacingAndGlyphs">14</text>
<line class="u" x1="575.3" y1="693.8" x2="601.0" y2="693.8"/>
<polyline class="u" points="601.0,693.8 618.0,664.8" />
<text x="643.5" y="686.0" font-size="14.0" textLength="17.1" lengthAdjust="spacingAndGlyphs">15</text>
<line class="u" x1="642.0" y1="687.5" x2="663.4" y2="687.5"/>
<polyline class="u" points="663.4,687.5 677.7,639.2" />
<text x="676.8" y="730.5" font-size="14.7" textLength="16.8" lengthAdjust="spacingAndGlyphs">16</text>
<line class="u" x1="674.2" y1="731.3" x2="698.8" y2="731.3"/>
<polyline class="u" points="698.8,731.3 725.9,697.0" />
<text x="689.0" y="588.0" font-size="14.0" textLength="15.7" lengthAdjust="spacingAndGlyphs">17</text>
<line class="u" x1="680.5" y1="588.6" x2="704.7" y2="588.6"/>
<polyline class="u" points="680.5,588.6 636.4,570.4" />
<text x="679.0" y="528.3" font-size="13.8" textLength="15.7" lengthAdjust="spacingAndGlyphs">18</text>
<line class="u" x1="672.0" y1="529.7" x2="696.0" y2="529.7"/>
<polyline class="u" points="672.0,529.7 639.3,556.7" />
<text x="653.5" y="504.0" font-size="14.0" textLength="15.5" lengthAdjust="spacingAndGlyphs">19</text>
<line class="u" x1="646.4" y1="505.6" x2="670.6" y2="505.6"/>
<polyline class="u" points="646.4,505.6 626.5,538.3" />
<text x="542.0" y="507.0" font-size="14.0" textLength="17.7" lengthAdjust="spacingAndGlyphs">20</text>
<line class="u" x1="537.0" y1="507.6" x2="562.5" y2="507.6"/>
<polyline class="u" points="558.3,507.6 590.4,555.3" />
<text x="716.7" y="337.7" font-size="15.2" textLength="16.3" lengthAdjust="spacingAndGlyphs">21</text>
<line class="u" x1="710.5" y1="339.2" x2="737.0" y2="339.2"/>
<polyline class="u" points="710.5,339.2 690.3,309.8" />
<text x="575.6" y="286.5" font-size="15.1" textLength="20.1" lengthAdjust="spacingAndGlyphs">22</text>
<line class="u" x1="572.5" y1="287.0" x2="595.7" y2="287.0"/>
<polyline class="u" points="595.7,287.0 589.5,333.0" />
<text x="564.7" y="264.8" font-size="15.1" textLength="20.3" lengthAdjust="spacingAndGlyphs">23</text>
<line class="u" x1="560.0" y1="266.4" x2="585.0" y2="266.4"/>
<polyline class="u" points="560.0,266.4 540.0,295.8" />
<text x="354.0" y="92.4" font-size="14.5" textLength="18.6" lengthAdjust="spacingAndGlyphs">24</text>
<line class="u" x1="349.0" y1="95.0" x2="374.0" y2="95.0"/>
<polyline class="u" points="374.0,95.0 405.0,129.0" />
<text x="540.5" y="30.0" font-size="14.7" textLength="18.5" lengthAdjust="spacingAndGlyphs">24</text>
<line class="u" x1="537.0" y1="32.6" x2="565.8" y2="32.6"/>
<polyline class="u" points="565.8,32.6 597.0,79.0" />
<text x="356.0" y="37.0" font-size="14.0" textLength="19.0" lengthAdjust="spacingAndGlyphs">25</text>
<line class="u" x1="350.0" y1="39.5" x2="375.0" y2="39.5"/>
<polyline class="u" points="375.0,39.5 407.0,75.0" />
<text x="400.0" y="17.5" font-size="11.9" textLength="19.0" lengthAdjust="spacingAndGlyphs">26</text>
<line class="u" x1="395.0" y1="20.5" x2="420.0" y2="20.5"/>
<polyline class="u" points="420.0,20.5 450.0,56.0" />
<text x="566.2" y="124.5" font-size="12.7" textLength="18.8" lengthAdjust="spacingAndGlyphs">27</text>
<line class="u" x1="564.0" y1="127.9" x2="588.0" y2="127.9"/>
<polyline class="u" points="588.0,127.9 617.0,150.0" />
<text x="619.0" y="121.0" font-size="14.0" textLength="18.0" lengthAdjust="spacingAndGlyphs">28</text>
<line class="u" x1="615.0" y1="123.5" x2="640.0" y2="123.5"/>
<polyline class="u" points="640.0,123.5 668.0,152.0" />
<text x="693.5" y="95.0" font-size="14.0" textLength="18.5" lengthAdjust="spacingAndGlyphs">29</text>
<line class="u" x1="690.5" y1="97.0" x2="713.0" y2="97.0"/>
<polyline class="u" points="713.0,97.0 742.0,122.0" />
<text x="712.0" y="67.0" font-size="14.0" textLength="18.0" lengthAdjust="spacingAndGlyphs">30</text>
<line class="u" x1="709.0" y1="70.0" x2="733.5" y2="70.0"/>
<polyline class="u" points="733.5,70.0 762.0,98.6" />
<text x="754.7" y="168.0" font-size="14.8" textLength="14.9" lengthAdjust="spacingAndGlyphs">31</text>
<line class="u" x1="751.0" y1="171.0" x2="774.6" y2="171.0"/>
<polyline class="u" points="774.6,171.0 812.0,146.0" />
<text x="726.7" y="233.5" font-size="14.0" textLength="18.0" lengthAdjust="spacingAndGlyphs">32</text>
<line class="u" x1="723.5" y1="236.0" x2="748.4" y2="236.0"/>
<polyline class="u" points="748.4,236.0 776.0,205.0" />
<text x="879.6" y="287.3" font-size="14.0" textLength="20.0" lengthAdjust="spacingAndGlyphs">33</text>
<line class="u" x1="874.6" y1="289.8" x2="900.8" y2="289.8"/>
<polyline class="u" points="874.6,289.8 853.4,256.0" />
<text x="963.6" y="230.6" font-size="16.2" textLength="17.4" lengthAdjust="spacingAndGlyphs">34</text>
<line class="u" x1="957.0" y1="232.6" x2="983.7" y2="232.6"/>
<polyline class="u" points="957.0,232.6 934.6,205.5" />
<text x="976.0" y="165.0" font-size="14.0" textLength="17.7" lengthAdjust="spacingAndGlyphs">35</text>
<line class="u" x1="972.0" y1="167.3" x2="996.0" y2="167.3"/>
<polyline class="u" points="996.0,167.3 1016.0,141.4" />
<text x="900.7" y="151.4" font-size="14.0" textLength="17.3" lengthAdjust="spacingAndGlyphs">36</text>
<line class="u" x1="888.0" y1="153.0" x2="921.0" y2="153.0"/>
<polyline class="u" points="883.0,146.4 895.7,153.0" />
<text x="887.0" y="55.0" font-size="14.0" textLength="17.5" lengthAdjust="spacingAndGlyphs">37</text>
<line class="u" x1="883.0" y1="57.8" x2="906.0" y2="57.8"/>
<polyline class="u" points="906.0,57.8 923.0,64.0" />
<text x="860.5" y="71.6" font-size="14.1" textLength="17.5" lengthAdjust="spacingAndGlyphs">38</text>
<line class="u" x1="856.0" y1="75.0" x2="879.0" y2="75.0"/>
<polyline class="u" points="879.0,75.0 914.5,84.0" />
<text x="971.0" y="36.0" font-size="14.0" textLength="18.0" lengthAdjust="spacingAndGlyphs">39</text>
<line class="u" x1="967.0" y1="39.4" x2="991.0" y2="39.4"/>
<polyline class="u" points="991.0,39.4 961.0,63.0" />
<text x="827.0" y="52.0" font-size="14.0" textLength="17.5" lengthAdjust="spacingAndGlyphs">40</text>
<line class="u" x1="823.0" y1="55.4" x2="847.0" y2="55.4"/>
<polyline class="u" points="823.0,55.4 794.6,82.0" />
</svg>
</body></html>
